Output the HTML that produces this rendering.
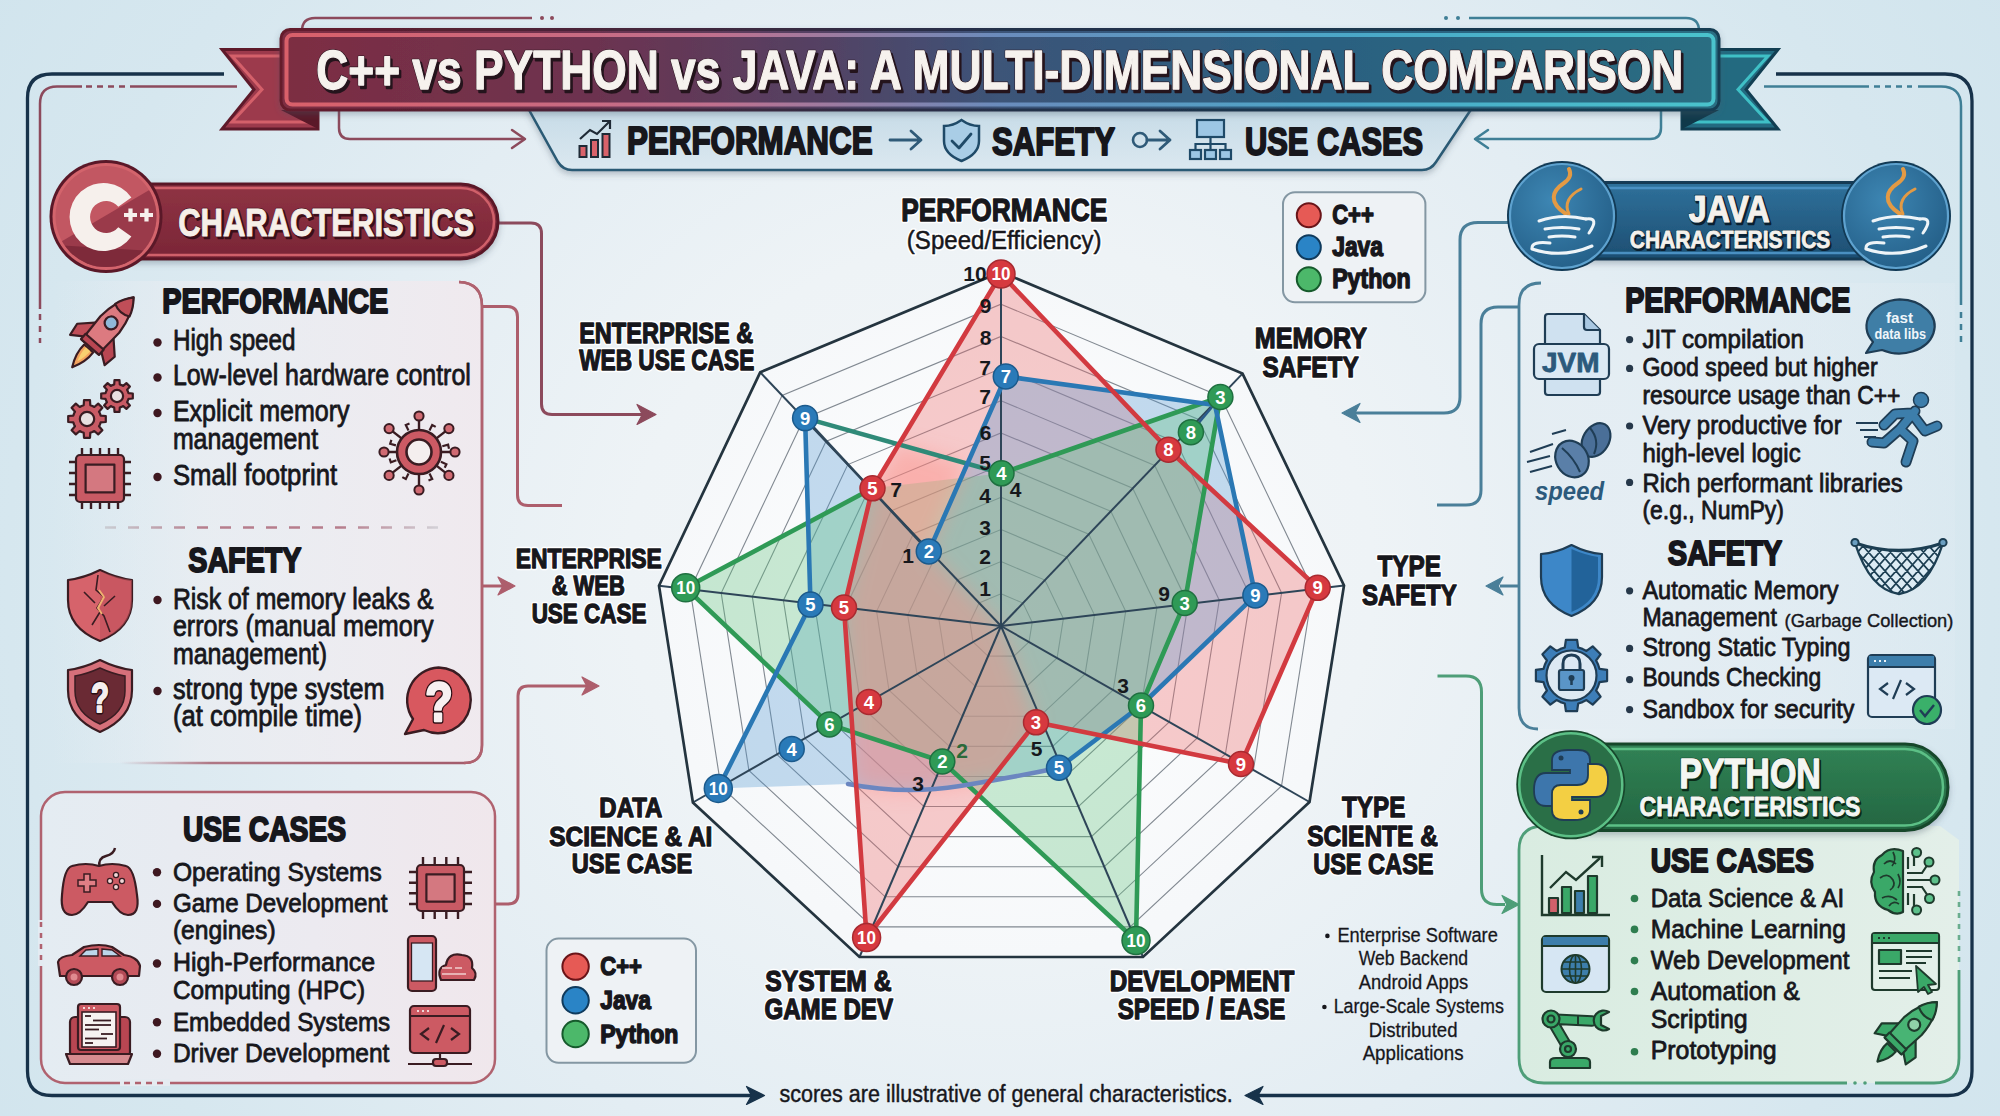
<!DOCTYPE html>
<html><head><meta charset="utf-8"><title>C++ vs Python vs Java</title>
<style>
html,body{margin:0;padding:0;background:#e6eef3;}
body{width:2000px;height:1116px;overflow:hidden;}
svg{display:block;font-family:"Liberation Sans",sans-serif;}
</style></head><body>
<svg width="2000" height="1116" viewBox="0 0 2000 1116">
<defs>
<radialGradient id="bg" gradientUnits="userSpaceOnUse" cx="1000" cy="580" r="1240" gradientTransform="translate(0,580) scale(1,0.92) translate(0,-580)">
  <stop offset="0" stop-color="#f3f6f8"/>
  <stop offset="0.3" stop-color="#eef3f6"/>
  <stop offset="0.55" stop-color="#e3edf3"/>
  <stop offset="0.8" stop-color="#d6e7ef"/>
  <stop offset="1" stop-color="#d0e4ed"/>
</radialGradient>
<linearGradient id="titleg" x1="0" x2="1" y1="0" y2="0">
  <stop offset="0" stop-color="#7d2d42"/>
  <stop offset="0.22" stop-color="#6c3350"/>
  <stop offset="0.38" stop-color="#534264"/>
  <stop offset="0.5" stop-color="#3c5478"/>
  <stop offset="0.7" stop-color="#2c5f80"/>
  <stop offset="1" stop-color="#2a6e82"/>
</linearGradient>
<linearGradient id="titleb" x1="0" x2="1" y1="0" y2="0">
  <stop offset="0" stop-color="#d9606a"/>
  <stop offset="0.3" stop-color="#c0708e"/>
  <stop offset="0.5" stop-color="#6a8cbc"/>
  <stop offset="0.75" stop-color="#4aa8c8"/>
  <stop offset="1" stop-color="#4ac3cc"/>
</linearGradient>
<linearGradient id="titleo" x1="0" x2="1" y1="0" y2="0">
  <stop offset="0" stop-color="#651c2c"/>
  <stop offset="0.5" stop-color="#24304a"/>
  <stop offset="1" stop-color="#123e52"/>
</linearGradient>
<linearGradient id="subg" x1="0" x2="0" y1="0" y2="1">
  <stop offset="0" stop-color="#c6dbe7"/>
  <stop offset="1" stop-color="#dbe8f0"/>
</linearGradient>
<linearGradient id="cppg" x1="0" x2="0" y1="0" y2="1">
  <stop offset="0" stop-color="#8f3344"/>
  <stop offset="1" stop-color="#7a2636"/>
</linearGradient>
<linearGradient id="javag" x1="0" x2="0" y1="0" y2="1">
  <stop offset="0" stop-color="#2f719b"/>
  <stop offset="1" stop-color="#1d4e72"/>
</linearGradient>
<radialGradient id="javac" cx="0.4" cy="0.35" r="0.7">
  <stop offset="0" stop-color="#3d86b3"/>
  <stop offset="1" stop-color="#245f88"/>
</radialGradient>
<linearGradient id="pyg" x1="0" x2="0" y1="0" y2="1">
  <stop offset="0" stop-color="#318255"/>
  <stop offset="1" stop-color="#236641"/>
</linearGradient>
<linearGradient id="lpanel" x1="0" x2="1" y1="0" y2="0">
  <stop offset="0" stop-color="#e9eef3" stop-opacity="0"/>
  <stop offset="0.35" stop-color="#eeeef2" stop-opacity="0.6"/>
  <stop offset="1" stop-color="#f0e9ee" stop-opacity="0.95"/>
</linearGradient>
<linearGradient id="upanel" x1="0" x2="1" y1="0" y2="0">
  <stop offset="0" stop-color="#e4ecf2"/>
  <stop offset="0.6" stop-color="#eceaf0"/>
  <stop offset="1" stop-color="#f0e7ec"/>
</linearGradient>
<linearGradient id="jpanel" x1="0" x2="1" y1="0" y2="0">
  <stop offset="0" stop-color="#e4edf3"/>
  <stop offset="1" stop-color="#e4edf3" stop-opacity="0.3"/>
</linearGradient>
<linearGradient id="ppanel" x1="0" x2="1" y1="0" y2="0">
  <stop offset="0" stop-color="#d9ece1"/>
  <stop offset="1" stop-color="#e3efe9"/>
</linearGradient>
<linearGradient id="lbot" gradientUnits="userSpaceOnUse" x1="120" x2="482" y1="0" y2="0">
  <stop offset="0" stop-color="#a25a6a" stop-opacity="0"/>
  <stop offset="0.25" stop-color="#a25a6a" stop-opacity="0.8"/>
  <stop offset="1" stop-color="#a25a6a"/>
</linearGradient>
<linearGradient id="dashg" gradientUnits="userSpaceOnUse" x1="105" x2="440" y1="0" y2="0">
  <stop offset="0" stop-color="#c9ccd2"/>
  <stop offset="0.3" stop-color="#b67d8c"/>
  <stop offset="0.7" stop-color="#b67d8c"/>
  <stop offset="1" stop-color="#d3d2d8"/>
</linearGradient>
<radialGradient id="chartbg" cx="0.5" cy="0.5" r="0.5">
  <stop offset="0" stop-color="#ffffff"/>
  <stop offset="1" stop-color="#f6f8fa"/>
</radialGradient>
<filter id="sh" x="-10%" y="-10%" width="120%" height="140%">
  <feDropShadow dx="0" dy="3" stdDeviation="3" flood-color="#4a5a6a" flood-opacity="0.35"/>
</filter>
</defs>
<rect x="0" y="0" width="2000" height="1116" fill="url(#bg)"/>
<path d="M224,74 L52,74 Q27.5,74 27.5,98 L27.5,1071 Q27.5,1095.5 52,1095.5 L760,1095.5" fill="none" stroke="#17324a" stroke-width="3.3"/>
<path d="M1776,74 L1945,74 Q1972,74 1972,101 L1972,1071 Q1972,1095.5 1948,1095.5 L1250,1095.5" fill="none" stroke="#17324a" stroke-width="3.3"/>
<path d="M237,86.5 L130,86.5" stroke="#8c4a5c" stroke-width="2.5" fill="none"/>
<path d="M125,86.5 L86,86.5" stroke="#8c4a5c" stroke-width="2.5" fill="none" stroke-dasharray="6,5"/>
<path d="M82,86.5 L57,86.5 Q40,86.5 40,104 L40,309" stroke="#8c4a5c" stroke-width="2.5" fill="none"/>
<path d="M40,314 L40,343" stroke="#8c4a5c" stroke-width="2.5" fill="none" stroke-dasharray="6,6"/>
<path d="M1764,86.6 L1869,86.6" stroke="#3f7f96" stroke-width="2.5" fill="none"/>
<path d="M1874,86.6 L1912,86.6" stroke="#3f7f96" stroke-width="2.5" fill="none" stroke-dasharray="6,5"/>
<path d="M1918,86.6 L1941,86.6 Q1961,86.6 1961,106 L1961,305" stroke="#3f7f96" stroke-width="2.5" fill="none"/>
<path d="M1961,312 L1961,345" stroke="#3f7f96" stroke-width="2.5" fill="none" stroke-dasharray="6,6"/>
<path d="M302,31 Q302,18 315,18 L532,18" stroke="#8c4a5c" stroke-width="2.5" fill="none"/>
<circle cx="542" cy="18" r="2" fill="#8c4a5c"/><circle cx="552" cy="18" r="2" fill="#8c4a5c"/>
<path d="M1469,18 L1686,18 Q1699,18 1699,31" stroke="#3f7f96" stroke-width="2.5" fill="none"/>
<circle cx="1446" cy="18" r="2" fill="#3f7f96"/><circle cx="1458" cy="18" r="2" fill="#3f7f96"/>
<path d="M339,108 L339,128 Q339,139 350,139 L524,139" stroke="#8c4a5c" stroke-width="2.5" fill="none"/>
<path d="M512,130 L525,139 L512,148" stroke="#8c4a5c" stroke-width="2.5" fill="none" stroke-linecap="round" stroke-linejoin="round"/>
<path d="M1661,108 L1661,128 Q1661,139 1650,139 L1476,139" stroke="#3f7f96" stroke-width="2.5" fill="none"/>
<path d="M1488,130 L1475,139 L1488,148" stroke="#3f7f96" stroke-width="2.5" fill="none" stroke-linecap="round" stroke-linejoin="round"/>
<g filter="url(#sh)">
<path d="M528,108 L1472,108 L1436,162 Q1431,170 1422,170 L572,170 Q563,170 558,162 Z" fill="url(#subg)" stroke="#2b5a74" stroke-width="2.5"/>
</g>
<path d="M222,49.5 L318,49.5 L318,129 L222,129 L254,89.5 Z" fill="#9c3a4c" stroke="#5e1a2a" stroke-width="3" stroke-linejoin="miter"/>
<path d="M232,56 L310,56 L310,122 L232,122 L262,89.5 Z" fill="none" stroke="#d4606a" stroke-width="3"/>
<path d="M281,110 L318,110 L318,129 Z" fill="#5a1828"/>
<path d="M1778,49.5 L1682,49.5 L1682,129 L1778,129 L1746,89.5 Z" fill="#236a80" stroke="#123e52" stroke-width="3"/>
<path d="M1768,56 L1690,56 L1690,122 L1768,122 L1738,89.5 Z" fill="none" stroke="#3fc0c6" stroke-width="3"/>
<path d="M1719,110 L1682,110 L1682,129 Z" fill="#10394a"/>
<g filter="url(#sh)">
<rect x="281" y="29.5" width="1438" height="80.5" rx="9" fill="url(#titleg)" stroke="url(#titleo)" stroke-width="3"/>
</g>
<rect x="286.5" y="35" width="1427" height="69.5" rx="6" fill="none" stroke="url(#titleb)" stroke-width="4"/>
<text x="318.45" y="91.55" font-size="54.80" font-weight="bold" textLength="1367.10" lengthAdjust="spacingAndGlyphs" fill="#24141c" stroke="#24141c" stroke-width="2.5" stroke-linejoin="round">C++ vs PYTHON vs JAVA: A MULTI-DIMENSIONAL COMPARISON</text>
<text x="316.25" y="88.75" font-size="54.80" font-weight="bold" textLength="1367.10" lengthAdjust="spacingAndGlyphs" fill="#2e1822" stroke="#2e1822" stroke-width="2.60" stroke-linejoin="round">C++ vs PYTHON vs JAVA: A MULTI-DIMENSIONAL COMPARISON</text>
<text x="316.25" y="88.75" font-size="54.80" font-weight="bold" textLength="1367.10" lengthAdjust="spacingAndGlyphs" fill="#f6f2ee" stroke="#f6f2ee" stroke-width="1.30" stroke-linejoin="round" >C++ vs PYTHON vs JAVA: A MULTI-DIMENSIONAL COMPARISON</text>
<text x="626.90" y="154.00" font-size="38.52" font-weight="bold" textLength="245.69" lengthAdjust="spacingAndGlyphs" fill="#17171c" stroke="#17171c" stroke-width="2.00" stroke-linejoin="round" >PERFORMANCE</text>
<text x="992.00" y="154.50" font-size="38.52" font-weight="bold" textLength="123.00" lengthAdjust="spacingAndGlyphs" fill="#17171c" stroke="#17171c" stroke-width="2.00" stroke-linejoin="round" >SAFETY</text>
<text x="1245.00" y="154.50" font-size="38.52" font-weight="bold" textLength="178.01" lengthAdjust="spacingAndGlyphs" fill="#17171c" stroke="#17171c" stroke-width="2.00" stroke-linejoin="round" >USE CASES</text>
<g stroke="#1f2a36" stroke-width="2" fill="#d9626a"><rect x="579.5" y="146" width="7" height="11"/><rect x="591" y="140" width="7" height="17"/><rect x="602.5" y="134" width="7" height="23"/></g>
<path d="M580,139 L590,130 L597,134 L609,122" stroke="#1f2a36" stroke-width="2.2" fill="none"/><path d="M602,121 L610,121 L610,129" stroke="#1f2a36" stroke-width="2.2" fill="none"/>
<path d="M890,140 L920,140 M911,131 L921,140 L911,149" stroke="#2f5a78" stroke-width="2.8" fill="none" stroke-linecap="round" stroke-linejoin="round"/>
<path d="M961.5,120 Q970,126 979,126 L979,141 Q979,154 961.5,161 Q944,154 944,141 L944,126 Q953,126 961.5,120 Z" fill="#a9cde6" stroke="#1f4a68" stroke-width="2.5"/>
<path d="M952,141 L959,148 L971,134" stroke="#1f4a68" stroke-width="2.8" fill="none" stroke-linecap="round" stroke-linejoin="round"/>
<circle cx="1140" cy="140" r="7" fill="none" stroke="#2f5a78" stroke-width="2.6"/>
<path d="M1147,140 L1170,140 M1160,131 L1170,140 L1160,149" stroke="#2f5a78" stroke-width="2.8" fill="none" stroke-linecap="round" stroke-linejoin="round"/>
<g stroke="#1f4a68" stroke-width="2.2" fill="#9cc6e4"><rect x="1197" y="120" width="27" height="17"/><rect x="1190" y="150" width="11" height="9"/><rect x="1205" y="150" width="11" height="9"/><rect x="1220" y="150" width="11" height="9"/></g><path d="M1210.5,137 L1210.5,150 M1195.5,150 L1195.5,144 L1225.5,144 L1225.5,150" stroke="#1f4a68" stroke-width="2.2" fill="none"/>
<path d="M52,281 L462,281 Q482,281 482,301 L482,747 Q482,763 466,763 L52,763 Z" fill="url(#lpanel)"/>
<path d="M459,282 Q482,283 482,306 L482,745 Q482,763 464,763 L120,763" fill="none" stroke="url(#lbot)" stroke-width="2.5"/>
<path d="M459,282 Q482,283 482,306 L482,745 Q482,763 464,763" fill="none" stroke="#b0626f" stroke-width="2.5"/>
<rect x="41" y="792" width="454" height="291" rx="24" fill="url(#upanel)" stroke="#b0626f" stroke-width="2.5"/>
<rect x="38" y="920" width="6" height="46" fill="#e3ebf2"/>
<path d="M41,922 L41,966" stroke="#b0626f" stroke-width="2.5" stroke-dasharray="5,6"/>
<rect x="120" y="1079" width="50" height="7" fill="#e5ebf1"/>
<path d="M124,1083 L168,1083" stroke="#b0626f" stroke-width="2.5" stroke-dasharray="6,5"/>
<path d="M497,223 L531,223 Q541.5,223 541.5,233.5 L541.5,404 Q541.5,414.5 552,414.5 L645,414.5" fill="none" stroke="#8c4a5c" stroke-width="3"/>
<path d="M656,414.5 L637,404.5 L642.32,414.5 L637,424.5 Z" fill="#8c4a5c" stroke="#8c4a5c" stroke-width="1.2" stroke-linejoin="round"/>
<path d="M483,306.5 L507,306.5 Q517.5,306.5 517.5,317 L517.5,495 Q517.5,505.5 528,505.5 L562,505.5" fill="none" stroke="#ad5e6c" stroke-width="3"/>
<path d="M483,586 L505,586" fill="none" stroke="#ad5e6c" stroke-width="3"/>
<path d="M515,586 L498,577 L502.76,586 L498,595 Z" fill="#ad5e6c" stroke="#ad5e6c" stroke-width="1.2" stroke-linejoin="round"/>
<path d="M495,904 L508,904 Q518,904 518,894 L518,696 Q518,686 528,686 L590,686" fill="none" stroke="#ad5e6c" stroke-width="3"/>
<path d="M599,686 L582,677 L586.76,686 L582,695 Z" fill="#ad5e6c" stroke="#ad5e6c" stroke-width="1.2" stroke-linejoin="round"/>
<g filter="url(#sh)">
<rect x="100" y="184" width="398" height="75" rx="37.5" fill="url(#cppg)" stroke="#5a1828" stroke-width="3"/>
</g>
<rect x="104" y="188" width="390" height="67" rx="33.5" fill="none" stroke="#d0606a" stroke-width="2.5"/>
<circle cx="106" cy="216.5" r="56.5" fill="#5a1828"/>
<circle cx="106" cy="216.5" r="53.5" fill="#d3646c"/>
<clipPath id="cppc"><circle cx="106" cy="216.5" r="50.5"/></clipPath>
<g clip-path="url(#cppc)"><rect x="50" y="160" width="112" height="112" fill="#c25762"/><path d="M40,254 L170,178 L170,280 L40,280 Z" fill="#9a3a4a"/><path d="M40,244 L170,252 L170,280 L40,280 Z" fill="#7e2a3a"/></g>
<path d="M131.4,197.5 A34,34 0 1 0 131.4,236.5 L118.3,227.3 A16,16 0 1 1 118.3,206.7 Z" fill="#f6f0ec"/>
<path d="M124,215 L137,215 M130.5,208.5 L130.5,221.5 M140,215 L153,215 M146.5,208.5 L146.5,221.5" stroke="#f6f0ec" stroke-width="4.2"/>
<text x="180.05" y="238.10" font-size="39.10" font-weight="bold" textLength="295.94" lengthAdjust="spacingAndGlyphs" fill="#3a0e18" stroke="#3a0e18" stroke-width="2.5" stroke-linejoin="round">CHARACTERISTICS</text>
<text x="178.25" y="235.90" font-size="39.10" font-weight="bold" textLength="295.94" lengthAdjust="spacingAndGlyphs" fill="#4a1420" stroke="#4a1420" stroke-width="2.30" stroke-linejoin="round">CHARACTERISTICS</text>
<text x="178.25" y="235.90" font-size="39.10" font-weight="bold" textLength="295.94" lengthAdjust="spacingAndGlyphs" fill="#f6efe8" stroke="#f6efe8" stroke-width="1.00" stroke-linejoin="round" >CHARACTERISTICS</text>
<text x="162.25" y="312.50" font-size="35.76" font-weight="bold" textLength="226.14" lengthAdjust="spacingAndGlyphs" fill="#17171c" stroke="#17171c" stroke-width="2.00" stroke-linejoin="round" >PERFORMANCE</text>
<circle cx="157.5" cy="342.5" r="4.2" fill="#3e1820"/>
<text x="172.90" y="350.10" font-size="28.63" font-weight="normal" textLength="122.70" lengthAdjust="spacingAndGlyphs" fill="#17171c" stroke="#17171c" stroke-width="0.80" stroke-linejoin="round" >High speed</text>
<circle cx="157.5" cy="377.5" r="4.2" fill="#3e1820"/>
<text x="172.90" y="385.20" font-size="28.63" font-weight="normal" textLength="297.91" lengthAdjust="spacingAndGlyphs" fill="#17171c" stroke="#17171c" stroke-width="0.80" stroke-linejoin="round" >Low-level hardware control</text>
<circle cx="157.5" cy="413" r="4.2" fill="#3e1820"/>
<text x="172.90" y="420.60" font-size="28.63" font-weight="normal" textLength="176.69" lengthAdjust="spacingAndGlyphs" fill="#17171c" stroke="#17171c" stroke-width="0.80" stroke-linejoin="round" >Explicit memory</text>
<text x="172.90" y="448.60" font-size="28.63" font-weight="normal" textLength="145.20" lengthAdjust="spacingAndGlyphs" fill="#17171c" stroke="#17171c" stroke-width="0.80" stroke-linejoin="round" >management</text>
<circle cx="157.5" cy="477" r="4.2" fill="#3e1820"/>
<text x="172.90" y="484.60" font-size="28.63" font-weight="normal" textLength="164.19" lengthAdjust="spacingAndGlyphs" fill="#17171c" stroke="#17171c" stroke-width="0.80" stroke-linejoin="round" >Small footprint</text>
<path d="M105,527.5 L440,527.5" stroke="url(#dashg)" stroke-width="2.5" stroke-dasharray="11,12"/>
<text x="188.30" y="571.50" font-size="35.25" font-weight="bold" textLength="113.10" lengthAdjust="spacingAndGlyphs" fill="#17171c" stroke="#17171c" stroke-width="2.00" stroke-linejoin="round" >SAFETY</text>
<circle cx="157.5" cy="600" r="4.2" fill="#3e1820"/>
<text x="172.90" y="608.60" font-size="28.63" font-weight="normal" textLength="260.71" lengthAdjust="spacingAndGlyphs" fill="#17171c" stroke="#17171c" stroke-width="0.80" stroke-linejoin="round" >Risk of memory leaks &amp;</text>
<text x="172.90" y="635.60" font-size="28.63" font-weight="normal" textLength="260.71" lengthAdjust="spacingAndGlyphs" fill="#17171c" stroke="#17171c" stroke-width="0.80" stroke-linejoin="round" >errors (manual memory</text>
<text x="172.90" y="664.10" font-size="28.63" font-weight="normal" textLength="154.20" lengthAdjust="spacingAndGlyphs" fill="#17171c" stroke="#17171c" stroke-width="0.80" stroke-linejoin="round" >management)</text>
<circle cx="157.5" cy="691" r="4.2" fill="#3e1820"/>
<text x="172.90" y="698.60" font-size="28.63" font-weight="normal" textLength="211.70" lengthAdjust="spacingAndGlyphs" fill="#17171c" stroke="#17171c" stroke-width="0.80" stroke-linejoin="round" >strong type system</text>
<text x="172.90" y="726.10" font-size="28.63" font-weight="normal" textLength="189.19" lengthAdjust="spacingAndGlyphs" fill="#17171c" stroke="#17171c" stroke-width="0.80" stroke-linejoin="round" >(at compile time)</text>
<text x="182.90" y="841.20" font-size="35.32" font-weight="bold" textLength="163.21" lengthAdjust="spacingAndGlyphs" fill="#17171c" stroke="#17171c" stroke-width="2.00" stroke-linejoin="round" >USE CASES</text>
<circle cx="157" cy="872.3" r="4.2" fill="#3e1820"/>
<text x="172.90" y="880.50" font-size="26.45" font-weight="normal" textLength="208.91" lengthAdjust="spacingAndGlyphs" fill="#17171c" stroke="#17171c" stroke-width="0.80" stroke-linejoin="round" >Operating Systems</text>
<circle cx="157" cy="903.9" r="4.2" fill="#3e1820"/>
<text x="172.90" y="912.10" font-size="26.45" font-weight="normal" textLength="214.70" lengthAdjust="spacingAndGlyphs" fill="#17171c" stroke="#17171c" stroke-width="0.80" stroke-linejoin="round" >Game Development</text>
<text x="172.90" y="938.60" font-size="26.45" font-weight="normal" textLength="102.70" lengthAdjust="spacingAndGlyphs" fill="#17171c" stroke="#17171c" stroke-width="0.80" stroke-linejoin="round" >(engines)</text>
<circle cx="157" cy="963.5" r="4.2" fill="#3e1820"/>
<text x="172.90" y="971.10" font-size="26.45" font-weight="normal" textLength="202.21" lengthAdjust="spacingAndGlyphs" fill="#17171c" stroke="#17171c" stroke-width="0.80" stroke-linejoin="round" >High-Performance</text>
<text x="172.90" y="998.60" font-size="26.45" font-weight="normal" textLength="192.10" lengthAdjust="spacingAndGlyphs" fill="#17171c" stroke="#17171c" stroke-width="0.80" stroke-linejoin="round" >Computing (HPC)</text>
<circle cx="157" cy="1022.3" r="4.2" fill="#3e1820"/>
<text x="172.90" y="1030.60" font-size="26.45" font-weight="normal" textLength="217.39" lengthAdjust="spacingAndGlyphs" fill="#17171c" stroke="#17171c" stroke-width="0.80" stroke-linejoin="round" >Embedded Systems</text>
<circle cx="157" cy="1053.8" r="4.2" fill="#3e1820"/>
<text x="172.90" y="1062.00" font-size="26.45" font-weight="normal" textLength="216.51" lengthAdjust="spacingAndGlyphs" fill="#17171c" stroke="#17171c" stroke-width="0.80" stroke-linejoin="round" >Driver Development</text>
<g transform="translate(90,347) rotate(41.3)" stroke="#3a1c22" stroke-width="2.2" stroke-linejoin="round"><path d="M-6,2 Q-7,14 0,27 Q7,14 6,2 Z" fill="#f2a25e"/><path d="M-3,3 Q-3,12 0,19 Q3,12 3,3 Z" fill="#f8d070" stroke="none"/><path d="M-10,-24 L-25,-9 L-23,4 L-10,-5 Z" fill="#c04e58"/><path d="M10,-24 L25,-9 L23,4 L10,-5 Z" fill="#b84652"/><path d="M-11,0 L-12.5,-30 Q-11,-52 0,-66 Q11,-52 12.5,-30 L11,0 Z" fill="#dc7a80"/><path d="M-9.5,-49 Q0,-44 9.5,-49 Q7,-58 0,-66 Q-7,-58 -9.5,-49 Z" fill="#c04e58"/><rect x="-12" y="-7" width="24" height="7" fill="#b84652"/><circle cx="0" cy="-32" r="6.5" fill="#8fb8d8"/></g>
<polygon points="100.0,413.6 100.7,415.7 105.8,416.0 105.8,422.0 100.7,422.3 100.0,424.4 100.0,424.4 99.0,426.3 102.4,430.2 98.2,434.4 94.3,431.0 92.4,432.0 92.4,432.0 90.3,432.7 90.0,437.8 84.0,437.8 83.7,432.7 81.6,432.0 81.6,432.0 79.7,431.0 75.8,434.4 71.6,430.2 75.0,426.3 74.0,424.4 74.0,424.4 73.3,422.3 68.2,422.0 68.2,416.0 73.3,415.7 74.0,413.6 74.0,413.6 75.0,411.7 71.6,407.8 75.8,403.6 79.7,407.0 81.6,406.0 81.6,406.0 83.7,405.3 84.0,400.2 90.0,400.2 90.3,405.3 92.4,406.0 92.4,406.0 94.3,407.0 98.2,403.6 102.4,407.8 99.0,411.7 100.0,413.6" fill="#c85a64" stroke="#3a1c22" stroke-width="2.2" stroke-linejoin="round"/>
<circle cx="87" cy="419" r="7.2" fill="#e8e0e0" stroke="#3a1c22" stroke-width="2.2"/>
<polygon points="127.9,391.5 128.5,393.2 132.8,393.5 132.8,398.5 128.5,398.8 127.9,400.5 127.9,400.5 127.1,402.2 129.9,405.4 126.4,408.9 123.2,406.1 121.5,406.9 121.5,406.9 119.8,407.5 119.5,411.8 114.5,411.8 114.2,407.5 112.5,406.9 112.5,406.9 110.8,406.1 107.6,408.9 104.1,405.4 106.9,402.2 106.1,400.5 106.1,400.5 105.5,398.8 101.2,398.5 101.2,393.5 105.5,393.2 106.1,391.5 106.1,391.5 106.9,389.8 104.1,386.6 107.6,383.1 110.8,385.9 112.5,385.1 112.5,385.1 114.2,384.5 114.5,380.2 119.5,380.2 119.8,384.5 121.5,385.1 121.5,385.1 123.2,385.9 126.4,383.1 129.9,386.6 127.1,389.8 127.9,391.5" fill="#c85a64" stroke="#3a1c22" stroke-width="2.2" stroke-linejoin="round"/>
<circle cx="117" cy="396" r="6.1" fill="#e8e0e0" stroke="#3a1c22" stroke-width="2.2"/>
<path d="M82.0,448 L82.0,455 M82.0,502 L82.0,509" stroke="#3a1c22" stroke-width="2.4"/>
<path d="M91.0,448 L91.0,455 M91.0,502 L91.0,509" stroke="#3a1c22" stroke-width="2.4"/>
<path d="M100.0,448 L100.0,455 M100.0,502 L100.0,509" stroke="#3a1c22" stroke-width="2.4"/>
<path d="M109.0,448 L109.0,455 M109.0,502 L109.0,509" stroke="#3a1c22" stroke-width="2.4"/>
<path d="M118.0,448 L118.0,455 M118.0,502 L118.0,509" stroke="#3a1c22" stroke-width="2.4"/>
<path d="M69,462.0 L76,462.0 M124,462.0 L131,462.0" stroke="#3a1c22" stroke-width="2.4"/>
<path d="M69,473.0 L76,473.0 M124,473.0 L131,473.0" stroke="#3a1c22" stroke-width="2.4"/>
<path d="M69,484.0 L76,484.0 M124,484.0 L131,484.0" stroke="#3a1c22" stroke-width="2.4"/>
<path d="M69,495.0 L76,495.0 M124,495.0 L131,495.0" stroke="#3a1c22" stroke-width="2.4"/>
<rect x="76" y="455" width="48" height="47" rx="4" fill="#c85a64" stroke="#3a1c22" stroke-width="2.2" stroke-linejoin="round"/>
<rect x="85.6" y="464.6" width="28.8" height="27.8" fill="#d47880" stroke="#3a1c22" stroke-width="2.2" stroke-linejoin="round"/>
<path d="M419,452 L419.0,416.0" stroke="#3a1c22" stroke-width="2.4"/>
<circle cx="419.0" cy="416.0" r="4.6" fill="#d06a72" stroke="#3a1c22" stroke-width="2"/>
<path d="M419,452 L448.9,428.6" stroke="#3a1c22" stroke-width="2.4"/>
<circle cx="448.9" cy="428.6" r="4.6" fill="#d06a72" stroke="#3a1c22" stroke-width="2"/>
<path d="M419,452 L455.0,452.0" stroke="#3a1c22" stroke-width="2.4"/>
<circle cx="455.0" cy="452.0" r="4.6" fill="#d06a72" stroke="#3a1c22" stroke-width="2"/>
<path d="M419,452 L448.9,475.4" stroke="#3a1c22" stroke-width="2.4"/>
<circle cx="448.9" cy="475.4" r="4.6" fill="#d06a72" stroke="#3a1c22" stroke-width="2"/>
<path d="M419,452 L419.0,490.0" stroke="#3a1c22" stroke-width="2.4"/>
<circle cx="419.0" cy="490.0" r="4.6" fill="#d06a72" stroke="#3a1c22" stroke-width="2"/>
<path d="M419,452 L389.1,475.4" stroke="#3a1c22" stroke-width="2.4"/>
<circle cx="389.1" cy="475.4" r="4.6" fill="#d06a72" stroke="#3a1c22" stroke-width="2"/>
<path d="M419,452 L384.0,452.0" stroke="#3a1c22" stroke-width="2.4"/>
<circle cx="384.0" cy="452.0" r="4.6" fill="#d06a72" stroke="#3a1c22" stroke-width="2"/>
<path d="M419,452 L389.1,428.6" stroke="#3a1c22" stroke-width="2.4"/>
<circle cx="389.1" cy="428.6" r="4.6" fill="#d06a72" stroke="#3a1c22" stroke-width="2"/>
<path d="M429.5,430.4 L432.2,425.0 L435.7,426.9" stroke="#3a1c22" stroke-width="2.2" fill="none"/>
<path d="M442.3,446.2 L448.1,444.7 L449.0,448.7" stroke="#3a1c22" stroke-width="2.2" fill="none"/>
<path d="M440.9,461.8 L446.4,464.2 L444.7,467.8" stroke="#3a1c22" stroke-width="2.2" fill="none"/>
<path d="M429.5,473.6 L432.2,479.0 L428.5,480.6" stroke="#3a1c22" stroke-width="2.2" fill="none"/>
<path d="M408.5,473.6 L405.8,479.0 L402.3,477.1" stroke="#3a1c22" stroke-width="2.2" fill="none"/>
<path d="M396.4,460.2 L390.8,462.3 L389.6,458.5" stroke="#3a1c22" stroke-width="2.2" fill="none"/>
<path d="M395.9,445.4 L390.2,443.7 L391.4,439.9" stroke="#3a1c22" stroke-width="2.2" fill="none"/>
<path d="M408.5,430.4 L405.8,425.0 L409.5,423.4" stroke="#3a1c22" stroke-width="2.2" fill="none"/>
<circle cx="419" cy="452" r="22" fill="#cc5a64" stroke="#3a1c22" stroke-width="2.6"/>
<circle cx="419" cy="452" r="12.5" fill="#f4eeee" stroke="#3a1c22" stroke-width="2.6"/>
<path d="M100,570 Q116,578 132,580 L132,600 Q132,628 100,641 Q68,628 68,600 L68,580 Q84,578 100,570 Z" fill="#d6636b" stroke="#3a1c22" stroke-width="2.2" stroke-linejoin="round"/>
<path d="M100,571 L100,640 Q132,628 132,600 L132,580 Q116,578 100,571 Z" fill="#c0505a" opacity="0.6"/>
<path d="M98,575 L96,590 L104,597 L97,608 L104,616 L110,632 M84,592 L95,603 M115,596 L104,606 M92,625 L100,612" stroke="#3a1c22" stroke-width="1.6" fill="none"/>
<path d="M99,590 L104,597 L98,608 L102,614" stroke="#f0b070" stroke-width="2" fill="none"/>
<path d="M100,660 Q116,668 132,670 L132,690 Q132,718 100,732 Q68,718 68,690 L68,670 Q84,668 100,660 Z" fill="#d6707a" stroke="#3a1c22" stroke-width="2.2" stroke-linejoin="round"/>
<path d="M100,668 Q113,674 125,676 L125,691 Q125,713 100,724 Q75,713 75,691 L75,676 Q87,674 100,668 Z" fill="#6a2a34" stroke="#3a1c22" stroke-width="1.5"/>
<text x="91.00" y="712.00" font-size="42.15" font-weight="bold" textLength="18.00" lengthAdjust="spacingAndGlyphs" fill="#2a0c12" stroke="#2a0c12" stroke-width="5.00" stroke-linejoin="round">?</text>
<text x="91.00" y="712.00" font-size="42.15" font-weight="bold" textLength="18.00" lengthAdjust="spacingAndGlyphs" fill="#f4eeee" stroke="#f4eeee" stroke-width="2.00" stroke-linejoin="round" >?</text>
<path d="M438.6,667.5 A32.8,32.8 0 1 1 424,730 L405,734 L413,719 A32.8,32.8 0 0 1 438.6,667.5 Z" fill="#d8585f" stroke="#3a1c22" stroke-width="2.4" stroke-linejoin="round"/>
<text x="425.25" y="720.75" font-size="55.96" font-weight="bold" textLength="27.49" lengthAdjust="spacingAndGlyphs" fill="#2a0c12" stroke="#2a0c12" stroke-width="5.50" stroke-linejoin="round">?</text>
<text x="425.25" y="720.75" font-size="55.96" font-weight="bold" textLength="27.49" lengthAdjust="spacingAndGlyphs" fill="#f8f0f0" stroke="#f8f0f0" stroke-width="2.50" stroke-linejoin="round" >?</text>
<path d="M99.5,867 Q98,858 106,856 Q114,854 115,848" stroke="#3a1c22" stroke-width="2.4" fill="none"/>
<path d="M72,866 Q64,868 62,895 Q60,915 72,915 Q80,915 88,902 L112,902 Q120,915 128,915 Q140,915 137,895 Q134,868 126,866 Q112,862 99,866 Q86,862 72,866 Z" fill="#cc5a63" stroke="#3a1c22" stroke-width="2.2" stroke-linejoin="round"/>
<path d="M78,880 L84,880 L84,874 L90,874 L90,880 L96,880 L96,886 L90,886 L90,892 L84,892 L84,886 L78,886 Z" fill="#e07e85" stroke="#3a1c22" stroke-width="1.5"/>
<circle cx="116" cy="875" r="2.6" fill="#f0d8d8" stroke="#3a1c22" stroke-width="1.3"/>
<circle cx="122" cy="881" r="2.6" fill="#f0d8d8" stroke="#3a1c22" stroke-width="1.3"/>
<circle cx="110" cy="881" r="2.6" fill="#f0d8d8" stroke="#3a1c22" stroke-width="1.3"/>
<circle cx="116" cy="887" r="2.6" fill="#f0d8d8" stroke="#3a1c22" stroke-width="1.3"/>
<path d="M60,976 L58,962 Q60,956 72,955 L84,947 Q100,943 112,947 L124,955 Q138,957 140,966 L139,976 Z" fill="#cc5a63" stroke="#3a1c22" stroke-width="2.2" stroke-linejoin="round"/>
<path d="M86,950 L98,949 L98,956 L80,956 Z M102,949 L112,950 L120,956 L102,956 Z" fill="#bcd6ea" stroke="#3a1c22" stroke-width="1.4"/>
<circle cx="74" cy="977" r="8" fill="#b34a56" stroke="#3a1c22" stroke-width="2.2" stroke-linejoin="round"/><circle cx="74" cy="977" r="3.5" fill="#e08a90"/>
<circle cx="120" cy="977" r="8" fill="#b34a56" stroke="#3a1c22" stroke-width="2.2" stroke-linejoin="round"/><circle cx="120" cy="977" r="3.5" fill="#e08a90"/>
<rect x="70" y="1017" width="60" height="40" rx="5" fill="#b84652" stroke="#3a1c22" stroke-width="2.2" stroke-linejoin="round"/>
<rect x="78" y="1004" width="42" height="46" rx="3" fill="#cc5a63" stroke="#3a1c22" stroke-width="2.2" stroke-linejoin="round"/>
<rect x="82" y="1012" width="34" height="35" fill="#f6f2f0" stroke="#3a1c22" stroke-width="1.6"/>
<path d="M83,1008 L85,1008 M88,1008 L90,1008 M93,1008 L95,1008" stroke="#f0d8d8" stroke-width="2"/>
<path d="M85,1016.0 L91,1016.0" stroke="#3a1c22" stroke-width="1.8"/>
<path d="M93,1020.5 L111,1020.5" stroke="#3a1c22" stroke-width="1.8"/>
<path d="M85,1025.0 L111,1025.0" stroke="#3a1c22" stroke-width="1.8"/>
<path d="M85,1029.5 L99,1029.5" stroke="#3a1c22" stroke-width="1.8"/>
<path d="M101,1034.0 L113,1034.0" stroke="#3a1c22" stroke-width="1.8"/>
<path d="M85,1038.5 L107,1038.5" stroke="#3a1c22" stroke-width="1.8"/>
<path d="M85,1043.0 L93,1043.0" stroke="#3a1c22" stroke-width="1.8"/>
<path d="M66,1054 L132,1054 L128,1064 L70,1064 Z" fill="#d68b90" stroke="#3a1c22" stroke-width="2.2" stroke-linejoin="round"/>
<path d="M423.0,857 L423.0,865 M423.0,911 L423.0,919" stroke="#3a1c22" stroke-width="2.4"/>
<path d="M434.7,857 L434.7,865 M434.7,911 L434.7,919" stroke="#3a1c22" stroke-width="2.4"/>
<path d="M446.3,857 L446.3,865 M446.3,911 L446.3,919" stroke="#3a1c22" stroke-width="2.4"/>
<path d="M458.0,857 L458.0,865 M458.0,911 L458.0,919" stroke="#3a1c22" stroke-width="2.4"/>
<path d="M409,872.0 L417,872.0 M464,872.0 L472,872.0" stroke="#3a1c22" stroke-width="2.4"/>
<path d="M409,882.7 L417,882.7 M464,882.7 L472,882.7" stroke="#3a1c22" stroke-width="2.4"/>
<path d="M409,893.3 L417,893.3 M464,893.3 L472,893.3" stroke="#3a1c22" stroke-width="2.4"/>
<path d="M409,904.0 L417,904.0 M464,904.0 L472,904.0" stroke="#3a1c22" stroke-width="2.4"/>
<rect x="417" y="865" width="47" height="46" rx="4" fill="#c85a64" stroke="#3a1c22" stroke-width="2.2" stroke-linejoin="round"/>
<rect x="426.4" y="874.4" width="28.2" height="27.2" fill="#d47880" stroke="#3a1c22" stroke-width="2.2" stroke-linejoin="round"/>
<rect x="408" y="936" width="28" height="55" rx="4" fill="#cc5a63" stroke="#3a1c22" stroke-width="2.2" stroke-linejoin="round"/>
<rect x="411.5" y="943" width="21" height="38" fill="#d6e6f3" stroke="#3a1c22" stroke-width="1.3"/>
<path d="M441,980 Q436,968 446,965 Q448,952 462,955 Q474,956 472,968 Q478,973 474,980 Z" fill="#cc5a63" stroke="#3a1c22" stroke-width="2.2" stroke-linejoin="round"/>
<path d="M442,968 L452,968 M455,968 L462,968 M442,974 L466,974" stroke="#f0d0d0" stroke-width="1.6"/>
<rect x="410" y="1006" width="60" height="47" rx="4" fill="#cc5a63" stroke="#3a1c22" stroke-width="2.2" stroke-linejoin="round"/>
<path d="M410,1016 L470,1016" stroke="#3a1c22" stroke-width="2"/>
<path d="M417,1011 L419,1011 M422,1011 L424,1011 M427,1011 L429,1011" stroke="#f0d8d8" stroke-width="2"/>
<path d="M429,1028 L421,1034 L429,1040 M451,1028 L459,1034 L451,1040 M444,1025 L436,1043" stroke="#3a1c22" stroke-width="2.2" fill="none"/>
<path d="M440,1053 L440,1060 M408,1064 L472,1064" stroke="#3a1c22" stroke-width="2.2"/>
<rect x="433" y="1059" width="14" height="7" rx="3" fill="#cc5a63" stroke="#3a1c22" stroke-width="2.2" stroke-linejoin="round"/>
<polygon points="1001.0,272.0 1242.5,373.6 1344.0,585.5 1309.5,802.0 1143.0,957.0 859.5,957.0 692.9,802.5 659.0,585.7 760.2,372.3" fill="url(#chartbg)"/>
<polygon points="1001.0,593.8 1023.0,603.1 1032.2,622.3 1029.0,642.0 1013.9,656.1 988.1,656.1 973.0,642.0 969.9,622.3 979.1,602.9" fill="none" stroke="#59636e" stroke-width="1.1" opacity="0.75"/>
<polygon points="1001.0,561.6 1044.9,580.1 1063.4,618.6 1057.1,658.0 1026.8,686.2 975.3,686.2 945.0,658.1 938.8,618.7 957.2,579.9" fill="none" stroke="#59636e" stroke-width="1.1" opacity="0.75"/>
<polygon points="1001.0,529.5 1066.9,557.2 1094.5,615.0 1085.1,674.0 1039.7,716.3 962.4,716.3 917.0,674.1 907.7,615.0 935.3,556.8" fill="none" stroke="#59636e" stroke-width="1.1" opacity="0.75"/>
<polygon points="1001.0,497.3 1088.8,534.2 1125.7,611.3 1113.2,690.0 1052.6,746.4 949.5,746.4 889.0,690.2 876.6,611.3 913.4,533.7" fill="none" stroke="#59636e" stroke-width="1.1" opacity="0.75"/>
<polygon points="1001.0,465.1 1110.8,511.3 1156.9,607.6 1141.2,706.0 1065.5,776.5 936.7,776.5 861.0,706.2 845.5,607.7 891.5,510.7" fill="none" stroke="#59636e" stroke-width="1.1" opacity="0.75"/>
<polygon points="1001.0,432.9 1132.7,488.3 1188.1,603.9 1169.3,722.0 1078.5,806.5 923.8,806.5 832.9,722.3 814.5,604.0 869.7,487.6" fill="none" stroke="#59636e" stroke-width="1.1" opacity="0.75"/>
<polygon points="1001.0,400.7 1154.7,465.4 1219.3,600.2 1197.3,738.0 1091.4,836.6 911.0,836.6 804.9,738.3 783.4,600.4 847.8,464.6" fill="none" stroke="#59636e" stroke-width="1.1" opacity="0.75"/>
<polygon points="1001.0,368.5 1176.6,442.4 1250.5,596.5 1225.4,754.0 1104.3,866.7 898.1,866.7 776.9,754.4 752.3,596.7 825.9,441.5" fill="none" stroke="#59636e" stroke-width="1.1" opacity="0.75"/>
<polygon points="1001.0,336.4 1198.6,419.5 1281.6,592.9 1253.4,770.0 1117.2,896.8 885.2,896.8 748.9,770.4 721.2,593.0 804.0,418.4" fill="none" stroke="#59636e" stroke-width="1.1" opacity="0.75"/>
<polygon points="1001.0,304.2 1220.5,396.5 1312.8,589.2 1281.5,786.0 1130.1,926.9 872.4,926.9 720.9,786.5 690.1,589.4 782.1,395.4" fill="none" stroke="#59636e" stroke-width="1.1" opacity="0.75"/>
<polygon points="1001,274 1168.5,449.7 1317.7,587.8 1241,764 1036,722.3 866.6,937.5 844,607.6 872.5,488.3" fill="#ee6a6a" fill-opacity="0.34"/>
<polygon points="1005.8,376.5 1215,405 1255.4,595.4 1141,705.5 1059,767.7 1010,777 923,791 848,784 718.3,788.4 810.5,604.6 805.1,418.1 928.8,551.4" fill="#4f95cf" fill-opacity="0.32"/>
<polygon points="1001.5,473.3 1220.4,397 1184.7,603 1141,705.5 1136,940.5 942.3,761.5 829.4,724.4 685.7,587.8 872.5,488.3" fill="#5cc07a" fill-opacity="0.32"/>
<filter id="ovb" x="-20%" y="-20%" width="140%" height="140%"><feGaussianBlur stdDeviation="10"/></filter>
<clipPath id="redclip"><polygon points="1001,274 1168.5,449.7 1317.7,587.8 1241,764 1036,722.3 866.6,937.5 844,607.6 872.5,488.3"/></clipPath>
<g clip-path="url(#redclip)"><polygon points="898.8,444.4 967.4,463.7 928.8,551.4 1001,626 1036,722.3 1010,777 960,786 905,792 852,786 844,607.6 872.5,488.3" fill="#ff8a80" fill-opacity="0.4" filter="url(#ovb)"/></g>
<line x1="1001" y1="626" x2="1001" y2="272" stroke="#2e4558" stroke-width="2"/>
<line x1="1001" y1="626" x2="1242.5" y2="373.6" stroke="#2e4558" stroke-width="2"/>
<line x1="1001" y1="626" x2="1344" y2="585.5" stroke="#2e4558" stroke-width="2"/>
<line x1="1001" y1="626" x2="1309.5" y2="802" stroke="#2e4558" stroke-width="2"/>
<line x1="1001" y1="626" x2="1143" y2="957" stroke="#2e4558" stroke-width="2"/>
<line x1="1001" y1="626" x2="859.5" y2="957" stroke="#2e4558" stroke-width="2"/>
<line x1="1001" y1="626" x2="692.9" y2="802.5" stroke="#2e4558" stroke-width="2"/>
<line x1="1001" y1="626" x2="659" y2="585.7" stroke="#2e4558" stroke-width="2"/>
<line x1="1001" y1="626" x2="760.2" y2="372.3" stroke="#2e4558" stroke-width="2"/>
<polygon points="1001.0,272.0 1242.5,373.6 1344.0,585.5 1309.5,802.0 1143.0,957.0 859.5,957.0 692.9,802.5 659.0,585.7 760.2,372.3" fill="none" stroke="#24343f" stroke-width="2.7" stroke-linejoin="miter"/>
<polyline points="1001.5,473.3 1220.4,397 1184.7,603 1141,705.5 1136,940.5 942.3,761.5 829.4,724.4 685.7,587.8 872.5,488.3" fill="none" stroke="#2f9a56" stroke-width="4.6" stroke-linejoin="round"/>
<path d="M805.1,418.1 L1001.5,473.3" stroke="#2f8a78" stroke-width="4.6"/>
<path d="M1190.9,432.2 L1220.4,397" stroke="#2a5a8a" stroke-width="2.5"/>
<polyline points="718.3,788.4 810.5,604.6 805.1,418.1" fill="none" stroke="#2a78b4" stroke-width="4.6" stroke-linejoin="round"/>
<polyline points="928.8,551.4 1005.8,376.5 1215,405 1255.4,595.4 1141,705.5 1059,767.7" fill="none" stroke="#2a78b4" stroke-width="4.6" stroke-linejoin="round"/>
<path d="M1059,767.7 Q1010,778 960,786 Q905,795 848,784" fill="none" stroke="#6b86c0" stroke-width="4.5" stroke-linecap="round"/>
<polygon points="1001,274 1168.5,449.7 1317.7,587.8 1241,764 1036,722.3 866.6,937.5 844,607.6 872.5,488.3" fill="none" stroke="#d23a40" stroke-width="4.6" stroke-linejoin="round"/>
<line x1="805.1" y1="418.1" x2="928.8" y2="551.4" stroke="#2e4558" stroke-width="2.5"/>
<text x="975" y="281.0" font-size="21" font-weight="bold" fill="#16181c" text-anchor="middle" stroke="#ffffff" stroke-width="0" >10</text>
<text x="985.5" y="312.5" font-size="21" font-weight="bold" fill="#16181c" text-anchor="middle" stroke="#ffffff" stroke-width="0" >9</text>
<text x="985.5" y="344.5" font-size="21" font-weight="bold" fill="#16181c" text-anchor="middle" stroke="#ffffff" stroke-width="0" >8</text>
<text x="985" y="374.5" font-size="21" font-weight="bold" fill="#16181c" text-anchor="middle" stroke="#ffffff" stroke-width="0" >7</text>
<text x="985" y="403.5" font-size="21" font-weight="bold" fill="#16181c" text-anchor="middle" stroke="#ffffff" stroke-width="0" >7</text>
<text x="985.5" y="440.0" font-size="21" font-weight="bold" fill="#16181c" text-anchor="middle" stroke="#ffffff" stroke-width="0" >6</text>
<text x="985" y="469.5" font-size="21" font-weight="bold" fill="#16181c" text-anchor="middle" stroke="#ffffff" stroke-width="0" >5</text>
<text x="985" y="502.5" font-size="21" font-weight="bold" fill="#16181c" text-anchor="middle" stroke="#ffffff" stroke-width="0" >4</text>
<text x="985" y="534.5" font-size="21" font-weight="bold" fill="#16181c" text-anchor="middle" stroke="#ffffff" stroke-width="0" >3</text>
<text x="985" y="564.0" font-size="21" font-weight="bold" fill="#16181c" text-anchor="middle" stroke="#ffffff" stroke-width="0" >2</text>
<text x="985" y="595.5" font-size="21" font-weight="bold" fill="#16181c" text-anchor="middle" stroke="#ffffff" stroke-width="0" >1</text>
<text x="1015.5" y="497.0" font-size="21" font-weight="bold" fill="#16181c" text-anchor="middle" stroke="#ffffff" stroke-width="0" >4</text>
<text x="1164" y="600.5" font-size="21" font-weight="bold" fill="#16181c" text-anchor="middle" stroke="#ffffff" stroke-width="0" >9</text>
<text x="1123" y="693.0" font-size="21" font-weight="bold" fill="#16181c" text-anchor="middle" stroke="#ffffff" stroke-width="0" >3</text>
<text x="896" y="496.5" font-size="21" font-weight="bold" fill="#16181c" text-anchor="middle" stroke="#ffffff" stroke-width="0" >7</text>
<text x="908" y="562.5" font-size="21" font-weight="bold" fill="#16181c" text-anchor="middle" stroke="#ffffff" stroke-width="0" >1</text>
<text x="1036.5" y="755.5" font-size="21" font-weight="bold" fill="#16181c" text-anchor="middle" stroke="#ffffff" stroke-width="0" >5</text>
<text x="918" y="790.5" font-size="21" font-weight="bold" fill="#16181c" text-anchor="middle" stroke="#ffffff" stroke-width="0" >3</text>
<text x="962" y="757.5" font-size="21" font-weight="bold" fill="#2a6a3a" text-anchor="middle">2</text>
<circle cx="1005.8" cy="376.5" r="12.5" fill="#2a7ab8" stroke="#1b5a8c" stroke-width="1.5"/>
<text x="1005.8" y="383.1" font-size="18.5" font-weight="bold" fill="#ffffff" text-anchor="middle">7</text>
<circle cx="1255.4" cy="595.4" r="12.5" fill="#2a7ab8" stroke="#1b5a8c" stroke-width="1.5"/>
<text x="1255.4" y="602.0" font-size="18.5" font-weight="bold" fill="#ffffff" text-anchor="middle">9</text>
<circle cx="1059" cy="767.7" r="12.5" fill="#2a7ab8" stroke="#1b5a8c" stroke-width="1.5"/>
<text x="1059" y="774.3000000000001" font-size="18.5" font-weight="bold" fill="#ffffff" text-anchor="middle">5</text>
<circle cx="791.7" cy="748.9" r="12.5" fill="#2a7ab8" stroke="#1b5a8c" stroke-width="1.5"/>
<text x="791.7" y="755.5" font-size="18.5" font-weight="bold" fill="#ffffff" text-anchor="middle">4</text>
<circle cx="718.3" cy="788.4" r="14" fill="#2a7ab8" stroke="#1b5a8c" stroke-width="1.5"/>
<text x="718.3" y="794.6999999999999" font-size="17.5" font-weight="bold" fill="#ffffff" text-anchor="middle" textLength="19" lengthAdjust="spacingAndGlyphs">10</text>
<circle cx="810.5" cy="604.6" r="12.5" fill="#2a7ab8" stroke="#1b5a8c" stroke-width="1.5"/>
<text x="810.5" y="611.2" font-size="18.5" font-weight="bold" fill="#ffffff" text-anchor="middle">5</text>
<circle cx="805.1" cy="418.1" r="12.5" fill="#2a7ab8" stroke="#1b5a8c" stroke-width="1.5"/>
<text x="805.1" y="424.70000000000005" font-size="18.5" font-weight="bold" fill="#ffffff" text-anchor="middle">9</text>
<circle cx="928.8" cy="551.4" r="12.5" fill="#2a7ab8" stroke="#1b5a8c" stroke-width="1.5"/>
<text x="928.8" y="558.0" font-size="18.5" font-weight="bold" fill="#ffffff" text-anchor="middle">2</text>
<circle cx="1001.5" cy="473.3" r="12.5" fill="#2f9a56" stroke="#1f7040" stroke-width="1.5"/>
<text x="1001.5" y="479.90000000000003" font-size="18.5" font-weight="bold" fill="#ffffff" text-anchor="middle">4</text>
<circle cx="1220.4" cy="397" r="12.5" fill="#2f9a56" stroke="#1f7040" stroke-width="1.5"/>
<text x="1220.4" y="403.6" font-size="18.5" font-weight="bold" fill="#ffffff" text-anchor="middle">3</text>
<circle cx="1190.9" cy="432.2" r="12.5" fill="#2f9a56" stroke="#1f7040" stroke-width="1.5"/>
<text x="1190.9" y="438.8" font-size="18.5" font-weight="bold" fill="#ffffff" text-anchor="middle">8</text>
<circle cx="1184.7" cy="603" r="12.5" fill="#2f9a56" stroke="#1f7040" stroke-width="1.5"/>
<text x="1184.7" y="609.6" font-size="18.5" font-weight="bold" fill="#ffffff" text-anchor="middle">3</text>
<circle cx="1141" cy="705.5" r="12.5" fill="#2f9a56" stroke="#1f7040" stroke-width="1.5"/>
<text x="1141" y="712.1" font-size="18.5" font-weight="bold" fill="#ffffff" text-anchor="middle">6</text>
<circle cx="1136" cy="940.5" r="14" fill="#2f9a56" stroke="#1f7040" stroke-width="1.5"/>
<text x="1136" y="946.8" font-size="17.5" font-weight="bold" fill="#ffffff" text-anchor="middle" textLength="19" lengthAdjust="spacingAndGlyphs">10</text>
<circle cx="942.3" cy="761.5" r="12.5" fill="#2f9a56" stroke="#1f7040" stroke-width="1.5"/>
<text x="942.3" y="768.1" font-size="18.5" font-weight="bold" fill="#ffffff" text-anchor="middle">2</text>
<circle cx="829.4" cy="724.4" r="12.5" fill="#2f9a56" stroke="#1f7040" stroke-width="1.5"/>
<text x="829.4" y="731.0" font-size="18.5" font-weight="bold" fill="#ffffff" text-anchor="middle">6</text>
<circle cx="685.7" cy="587.8" r="14" fill="#2f9a56" stroke="#1f7040" stroke-width="1.5"/>
<text x="685.7" y="594.0999999999999" font-size="17.5" font-weight="bold" fill="#ffffff" text-anchor="middle" textLength="19" lengthAdjust="spacingAndGlyphs">10</text>
<circle cx="1001" cy="274" r="14" fill="#d6393f" stroke="#a82a30" stroke-width="1.5"/>
<text x="1001" y="280.3" font-size="17.5" font-weight="bold" fill="#ffffff" text-anchor="middle" textLength="19" lengthAdjust="spacingAndGlyphs">10</text>
<circle cx="1168.5" cy="449.7" r="12.5" fill="#d6393f" stroke="#a82a30" stroke-width="1.5"/>
<text x="1168.5" y="456.3" font-size="18.5" font-weight="bold" fill="#ffffff" text-anchor="middle">8</text>
<circle cx="1317.7" cy="587.8" r="12.5" fill="#d6393f" stroke="#a82a30" stroke-width="1.5"/>
<text x="1317.7" y="594.4" font-size="18.5" font-weight="bold" fill="#ffffff" text-anchor="middle">9</text>
<circle cx="1241" cy="764" r="12.5" fill="#d6393f" stroke="#a82a30" stroke-width="1.5"/>
<text x="1241" y="770.6" font-size="18.5" font-weight="bold" fill="#ffffff" text-anchor="middle">9</text>
<circle cx="1036" cy="722.3" r="12.5" fill="#d6393f" stroke="#a82a30" stroke-width="1.5"/>
<text x="1036" y="728.9" font-size="18.5" font-weight="bold" fill="#ffffff" text-anchor="middle">3</text>
<circle cx="866.6" cy="937.5" r="14" fill="#d6393f" stroke="#a82a30" stroke-width="1.5"/>
<text x="866.6" y="943.8" font-size="17.5" font-weight="bold" fill="#ffffff" text-anchor="middle" textLength="19" lengthAdjust="spacingAndGlyphs">10</text>
<circle cx="868.9" cy="701.9" r="12.5" fill="#d6393f" stroke="#a82a30" stroke-width="1.5"/>
<text x="868.9" y="708.5" font-size="18.5" font-weight="bold" fill="#ffffff" text-anchor="middle">4</text>
<circle cx="844" cy="607.6" r="12.5" fill="#d6393f" stroke="#a82a30" stroke-width="1.5"/>
<text x="844" y="614.2" font-size="18.5" font-weight="bold" fill="#ffffff" text-anchor="middle">5</text>
<circle cx="872.5" cy="488.3" r="12.5" fill="#d6393f" stroke="#a82a30" stroke-width="1.5"/>
<text x="872.5" y="494.90000000000003" font-size="18.5" font-weight="bold" fill="#ffffff" text-anchor="middle">5</text>
<text x="901.15" y="221.35" font-size="30.96" font-weight="bold" textLength="206.09" lengthAdjust="spacingAndGlyphs" fill="#ffffff" stroke="#ffffff" stroke-width="4.30" stroke-linejoin="round">PERFORMANCE</text>
<text x="901.15" y="221.35" font-size="30.96" font-weight="bold" textLength="206.09" lengthAdjust="spacingAndGlyphs" fill="#17171c" stroke="#17171c" stroke-width="1.30" stroke-linejoin="round" >PERFORMANCE</text>
<text x="906.85" y="249.25" font-size="25.15" font-weight="normal" textLength="194.69" lengthAdjust="spacingAndGlyphs" fill="#ffffff" stroke="#ffffff" stroke-width="3.50" stroke-linejoin="round">(Speed/Efficiency)</text>
<text x="906.85" y="249.25" font-size="25.15" font-weight="normal" textLength="194.69" lengthAdjust="spacingAndGlyphs" fill="#17171c" stroke="#17171c" stroke-width="0.50" stroke-linejoin="round" >(Speed/Efficiency)</text>
<text x="579.15" y="342.85" font-size="28.63" font-weight="bold" textLength="174.00" lengthAdjust="spacingAndGlyphs" fill="#ffffff" stroke="#ffffff" stroke-width="4.30" stroke-linejoin="round">ENTERPRISE &amp;</text>
<text x="579.15" y="342.85" font-size="28.63" font-weight="bold" textLength="174.00" lengthAdjust="spacingAndGlyphs" fill="#17171c" stroke="#17171c" stroke-width="1.30" stroke-linejoin="round" >ENTERPRISE &amp;</text>
<text x="579.15" y="370.15" font-size="28.63" font-weight="bold" textLength="175.20" lengthAdjust="spacingAndGlyphs" fill="#ffffff" stroke="#ffffff" stroke-width="4.30" stroke-linejoin="round">WEB USE CASE</text>
<text x="579.15" y="370.15" font-size="28.63" font-weight="bold" textLength="175.20" lengthAdjust="spacingAndGlyphs" fill="#17171c" stroke="#17171c" stroke-width="1.30" stroke-linejoin="round" >WEB USE CASE</text>
<text x="1254.75" y="347.95" font-size="30.23" font-weight="bold" textLength="112.20" lengthAdjust="spacingAndGlyphs" fill="#ffffff" stroke="#ffffff" stroke-width="4.30" stroke-linejoin="round">MEMORY</text>
<text x="1254.75" y="347.95" font-size="30.23" font-weight="bold" textLength="112.20" lengthAdjust="spacingAndGlyphs" fill="#17171c" stroke="#17171c" stroke-width="1.30" stroke-linejoin="round" >MEMORY</text>
<text x="1262.55" y="377.25" font-size="29.80" font-weight="bold" textLength="96.20" lengthAdjust="spacingAndGlyphs" fill="#ffffff" stroke="#ffffff" stroke-width="4.30" stroke-linejoin="round">SAFETY</text>
<text x="1262.55" y="377.25" font-size="29.80" font-weight="bold" textLength="96.20" lengthAdjust="spacingAndGlyphs" fill="#17171c" stroke="#17171c" stroke-width="1.30" stroke-linejoin="round" >SAFETY</text>
<text x="1377.45" y="576.15" font-size="29.07" font-weight="bold" textLength="63.70" lengthAdjust="spacingAndGlyphs" fill="#ffffff" stroke="#ffffff" stroke-width="4.30" stroke-linejoin="round">TYPE</text>
<text x="1377.45" y="576.15" font-size="29.07" font-weight="bold" textLength="63.70" lengthAdjust="spacingAndGlyphs" fill="#17171c" stroke="#17171c" stroke-width="1.30" stroke-linejoin="round" >TYPE</text>
<text x="1361.95" y="604.95" font-size="29.07" font-weight="bold" textLength="94.80" lengthAdjust="spacingAndGlyphs" fill="#ffffff" stroke="#ffffff" stroke-width="4.30" stroke-linejoin="round">SAFETY</text>
<text x="1361.95" y="604.95" font-size="29.07" font-weight="bold" textLength="94.80" lengthAdjust="spacingAndGlyphs" fill="#17171c" stroke="#17171c" stroke-width="1.30" stroke-linejoin="round" >SAFETY</text>
<text x="515.65" y="567.65" font-size="27.62" font-weight="bold" textLength="146.20" lengthAdjust="spacingAndGlyphs" fill="#ffffff" stroke="#ffffff" stroke-width="4.30" stroke-linejoin="round">ENTERPRISE</text>
<text x="515.65" y="567.65" font-size="27.62" font-weight="bold" textLength="146.20" lengthAdjust="spacingAndGlyphs" fill="#17171c" stroke="#17171c" stroke-width="1.30" stroke-linejoin="round" >ENTERPRISE</text>
<text x="551.65" y="595.15" font-size="27.18" font-weight="bold" textLength="73.20" lengthAdjust="spacingAndGlyphs" fill="#ffffff" stroke="#ffffff" stroke-width="4.30" stroke-linejoin="round">&amp; WEB</text>
<text x="551.65" y="595.15" font-size="27.18" font-weight="bold" textLength="73.20" lengthAdjust="spacingAndGlyphs" fill="#17171c" stroke="#17171c" stroke-width="1.30" stroke-linejoin="round" >&amp; WEB</text>
<text x="531.65" y="622.65" font-size="27.18" font-weight="bold" textLength="114.71" lengthAdjust="spacingAndGlyphs" fill="#ffffff" stroke="#ffffff" stroke-width="4.30" stroke-linejoin="round">USE CASE</text>
<text x="531.65" y="622.65" font-size="27.18" font-weight="bold" textLength="114.71" lengthAdjust="spacingAndGlyphs" fill="#17171c" stroke="#17171c" stroke-width="1.30" stroke-linejoin="round" >USE CASE</text>
<text x="599.35" y="817.15" font-size="27.91" font-weight="bold" textLength="63.00" lengthAdjust="spacingAndGlyphs" fill="#ffffff" stroke="#ffffff" stroke-width="4.30" stroke-linejoin="round">DATA</text>
<text x="599.35" y="817.15" font-size="27.91" font-weight="bold" textLength="63.00" lengthAdjust="spacingAndGlyphs" fill="#17171c" stroke="#17171c" stroke-width="1.30" stroke-linejoin="round" >DATA</text>
<text x="549.35" y="845.55" font-size="27.91" font-weight="bold" textLength="163.00" lengthAdjust="spacingAndGlyphs" fill="#ffffff" stroke="#ffffff" stroke-width="4.30" stroke-linejoin="round">SCIENCE &amp; AI</text>
<text x="549.35" y="845.55" font-size="27.91" font-weight="bold" textLength="163.00" lengthAdjust="spacingAndGlyphs" fill="#17171c" stroke="#17171c" stroke-width="1.30" stroke-linejoin="round" >SCIENCE &amp; AI</text>
<text x="571.65" y="872.85" font-size="27.91" font-weight="bold" textLength="120.71" lengthAdjust="spacingAndGlyphs" fill="#ffffff" stroke="#ffffff" stroke-width="4.30" stroke-linejoin="round">USE CASE</text>
<text x="571.65" y="872.85" font-size="27.91" font-weight="bold" textLength="120.71" lengthAdjust="spacingAndGlyphs" fill="#17171c" stroke="#17171c" stroke-width="1.30" stroke-linejoin="round" >USE CASE</text>
<text x="765.35" y="991.15" font-size="29.07" font-weight="bold" textLength="126.30" lengthAdjust="spacingAndGlyphs" fill="#ffffff" stroke="#ffffff" stroke-width="4.30" stroke-linejoin="round">SYSTEM &amp;</text>
<text x="765.35" y="991.15" font-size="29.07" font-weight="bold" textLength="126.30" lengthAdjust="spacingAndGlyphs" fill="#17171c" stroke="#17171c" stroke-width="1.30" stroke-linejoin="round" >SYSTEM &amp;</text>
<text x="764.45" y="1019.35" font-size="29.07" font-weight="bold" textLength="128.60" lengthAdjust="spacingAndGlyphs" fill="#ffffff" stroke="#ffffff" stroke-width="4.30" stroke-linejoin="round">GAME DEV</text>
<text x="764.45" y="1019.35" font-size="29.07" font-weight="bold" textLength="128.60" lengthAdjust="spacingAndGlyphs" fill="#17171c" stroke="#17171c" stroke-width="1.30" stroke-linejoin="round" >GAME DEV</text>
<text x="1109.65" y="991.15" font-size="29.07" font-weight="bold" textLength="184.70" lengthAdjust="spacingAndGlyphs" fill="#ffffff" stroke="#ffffff" stroke-width="4.30" stroke-linejoin="round">DEVELOPMENT</text>
<text x="1109.65" y="991.15" font-size="29.07" font-weight="bold" textLength="184.70" lengthAdjust="spacingAndGlyphs" fill="#17171c" stroke="#17171c" stroke-width="1.30" stroke-linejoin="round" >DEVELOPMENT</text>
<text x="1117.65" y="1019.35" font-size="29.36" font-weight="bold" textLength="167.70" lengthAdjust="spacingAndGlyphs" fill="#ffffff" stroke="#ffffff" stroke-width="4.30" stroke-linejoin="round">SPEED / EASE</text>
<text x="1117.65" y="1019.35" font-size="29.36" font-weight="bold" textLength="167.70" lengthAdjust="spacingAndGlyphs" fill="#17171c" stroke="#17171c" stroke-width="1.30" stroke-linejoin="round" >SPEED / EASE</text>
<text x="1342.05" y="817.35" font-size="28.63" font-weight="bold" textLength="63.30" lengthAdjust="spacingAndGlyphs" fill="#ffffff" stroke="#ffffff" stroke-width="4.30" stroke-linejoin="round">TYPE</text>
<text x="1342.05" y="817.35" font-size="28.63" font-weight="bold" textLength="63.30" lengthAdjust="spacingAndGlyphs" fill="#17171c" stroke="#17171c" stroke-width="1.30" stroke-linejoin="round" >TYPE</text>
<text x="1307.25" y="846.15" font-size="28.63" font-weight="bold" textLength="130.60" lengthAdjust="spacingAndGlyphs" fill="#ffffff" stroke="#ffffff" stroke-width="4.30" stroke-linejoin="round">SCIENTE &amp;</text>
<text x="1307.25" y="846.15" font-size="28.63" font-weight="bold" textLength="130.60" lengthAdjust="spacingAndGlyphs" fill="#17171c" stroke="#17171c" stroke-width="1.30" stroke-linejoin="round" >SCIENTE &amp;</text>
<text x="1313.15" y="874.35" font-size="28.63" font-weight="bold" textLength="120.41" lengthAdjust="spacingAndGlyphs" fill="#ffffff" stroke="#ffffff" stroke-width="4.30" stroke-linejoin="round">USE CASE</text>
<text x="1313.15" y="874.35" font-size="28.63" font-weight="bold" textLength="120.41" lengthAdjust="spacingAndGlyphs" fill="#17171c" stroke="#17171c" stroke-width="1.30" stroke-linejoin="round" >USE CASE</text>
<rect x="1283" y="192.2" width="142.4" height="110.1" rx="12" fill="#eef2f5" stroke="#8497a3" stroke-width="2"/>
<circle cx="1308.8" cy="215.2" r="12" fill="#e65a55" stroke="#6a1418" stroke-width="2"/>
<circle cx="1308.8" cy="247.2" r="12" fill="#2a84c6" stroke="#0f3a5c" stroke-width="2"/>
<circle cx="1308.8" cy="279.2" r="12" fill="#4cb86a" stroke="#165a2c" stroke-width="2"/>
<text x="1332.15" y="224.35" font-size="27.91" font-weight="bold" textLength="41.80" lengthAdjust="spacingAndGlyphs" fill="#17171c" stroke="#17171c" stroke-width="1.50" stroke-linejoin="round" >C++</text>
<text x="1332.15" y="256.35" font-size="27.91" font-weight="bold" textLength="50.95" lengthAdjust="spacingAndGlyphs" fill="#17171c" stroke="#17171c" stroke-width="1.50" stroke-linejoin="round" >Java</text>
<text x="1332.15" y="288.35" font-size="27.91" font-weight="bold" textLength="78.49" lengthAdjust="spacingAndGlyphs" fill="#17171c" stroke="#17171c" stroke-width="1.50" stroke-linejoin="round" >Python</text>
<rect x="546.5" y="938.6" width="149.5" height="124.1" rx="12" fill="#eef2f5" stroke="#8497a3" stroke-width="2"/>
<circle cx="575.6" cy="966.6" r="13.2" fill="#e65a55" stroke="#6a1418" stroke-width="2"/>
<circle cx="575.6" cy="1000.3" r="13.2" fill="#2a84c6" stroke="#0f3a5c" stroke-width="2"/>
<circle cx="575.6" cy="1034" r="13.2" fill="#4cb86a" stroke="#165a2c" stroke-width="2"/>
<text x="600.25" y="974.85" font-size="26.60" font-weight="bold" textLength="41.60" lengthAdjust="spacingAndGlyphs" fill="#17171c" stroke="#17171c" stroke-width="1.50" stroke-linejoin="round" >C++</text>
<text x="600.25" y="1009.25" font-size="26.60" font-weight="bold" textLength="50.75" lengthAdjust="spacingAndGlyphs" fill="#17171c" stroke="#17171c" stroke-width="1.50" stroke-linejoin="round" >Java</text>
<text x="600.25" y="1043.25" font-size="26.60" font-weight="bold" textLength="78.09" lengthAdjust="spacingAndGlyphs" fill="#17171c" stroke="#17171c" stroke-width="1.50" stroke-linejoin="round" >Python</text>
<circle cx="1327.4" cy="935.9" r="2.3" fill="#17171c"/>
<text x="1337.45" y="942.15" font-size="21.08" font-weight="normal" textLength="160.40" lengthAdjust="spacingAndGlyphs" fill="#17171c" stroke="#17171c" stroke-width="0.30" stroke-linejoin="round" >Enterprise Software</text>
<text x="1358.75" y="965.45" font-size="21.08" font-weight="normal" textLength="109.39" lengthAdjust="spacingAndGlyphs" fill="#17171c" stroke="#17171c" stroke-width="0.30" stroke-linejoin="round" >Web Backend</text>
<text x="1358.75" y="989.05" font-size="21.08" font-weight="normal" textLength="109.40" lengthAdjust="spacingAndGlyphs" fill="#17171c" stroke="#17171c" stroke-width="0.30" stroke-linejoin="round" >Android Apps</text>
<circle cx="1324.4" cy="1007" r="2.3" fill="#17171c"/>
<text x="1333.65" y="1013.45" font-size="21.08" font-weight="normal" textLength="170.20" lengthAdjust="spacingAndGlyphs" fill="#17171c" stroke="#17171c" stroke-width="0.30" stroke-linejoin="round" >Large-Scale Systems</text>
<text x="1368.65" y="1036.85" font-size="21.08" font-weight="normal" textLength="88.90" lengthAdjust="spacingAndGlyphs" fill="#17171c" stroke="#17171c" stroke-width="0.30" stroke-linejoin="round" >Distributed</text>
<text x="1362.65" y="1059.85" font-size="21.08" font-weight="normal" textLength="100.90" lengthAdjust="spacingAndGlyphs" fill="#17171c" stroke="#17171c" stroke-width="0.30" stroke-linejoin="round" >Applications</text>
<path d="M764.5,1095.5 L746.5,1086.5 L751.54,1095.5 L746.5,1104.5 Z" fill="#17324a" stroke="#17324a" stroke-width="1.2" stroke-linejoin="round"/>
<path d="M1245,1095.5 L1263,1086.5 L1257.96,1095.5 L1263,1104.5 Z" fill="#17324a" stroke="#17324a" stroke-width="1.2" stroke-linejoin="round"/>
<text x="779.43" y="1102.38" font-size="24.60" font-weight="normal" textLength="453.35" lengthAdjust="spacingAndGlyphs" fill="#17171c" stroke="#17171c" stroke-width="0.45" stroke-linejoin="round" >scores are illustrative of general characteristics.</text>
<path d="M1540,283 L1955,283 L1955,729 L1538,729 Q1519,729 1519,710 L1519,302 Q1519,283 1540,283 Z" fill="url(#jpanel)" opacity="0.8"/>
<path d="M1541,283 Q1519,283 1519,305 L1519,708 Q1519,729 1538,729" fill="none" stroke="#4a7f99" stroke-width="2.8"/>
<path d="M1508,222.5 L1478,222.5 Q1460,222.5 1460,240 L1460,397 Q1460,413 1444,413 L1355,413" fill="none" stroke="#4a7f99" stroke-width="3"/>
<path d="M1342,413 L1360,403.5 L1354.96,413 L1360,422.5 Z" fill="#4a7f99" stroke="#4a7f99" stroke-width="1.2" stroke-linejoin="round"/>
<path d="M1519,307 L1498,307 Q1481,307 1481,324 L1481,490 Q1481,505 1466,505 L1437,505" fill="none" stroke="#4a7f99" stroke-width="3"/>
<path d="M1519,586 L1500,586" fill="none" stroke="#4a7f99" stroke-width="3"/>
<path d="M1486,586 L1503,577 L1498.24,586 L1503,595 Z" fill="#4a7f99" stroke="#4a7f99" stroke-width="1.2" stroke-linejoin="round"/>
<path d="M1437.5,676 L1466,676 Q1481.5,676 1481.5,692 L1481.5,889 Q1481.5,904.5 1497,904.5 L1505,904.5" fill="none" stroke="#4e9e78" stroke-width="3"/>
<path d="M1519,904.5 L1502,895.5 L1506.76,904.5 L1502,913.5 Z" fill="#4e9e78" stroke="#4e9e78" stroke-width="1.2" stroke-linejoin="round"/>
<path d="M1519,850 Q1519,826 1543,826 L1940,826 L1959,840 L1959,1058 Q1959,1083 1934,1083 L1544,1083 Q1519,1083 1519,1058 Z" fill="url(#ppanel)"/>
<path d="M1544,826 Q1519,826 1519,850 L1519,1058 Q1519,1083 1544,1083 L1847,1083" fill="none" stroke="#4e9e78" stroke-width="2.8"/>
<path d="M1875,1083 L1934,1083 Q1959,1083 1959,1058 L1959,970" fill="none" stroke="#4e9e78" stroke-width="2.8"/>
<path d="M1959,962 L1959,890" stroke="#4e9e78" stroke-width="2.6" stroke-dasharray="5,6" opacity="0.8"/>
<circle cx="1855" cy="1083" r="1.8" fill="#4e9e78"/><circle cx="1865" cy="1083" r="1.8" fill="#4e9e78"/>
<g filter="url(#sh)">
<rect x="1560" y="182.5" width="338" height="76.5" fill="url(#javag)" stroke="#123a55" stroke-width="3"/>
</g>
<rect x="1560" y="188" width="338" height="65" fill="none" stroke="#4a90c2" stroke-width="2.5"/>
<circle cx="1562" cy="216" r="55" fill="#123a55"/>
<circle cx="1562" cy="216" r="52" fill="url(#javac)" stroke="#5ea2cf" stroke-width="2.2"/>
<path d="M1566,214 C1548,202 1552,191 1564,183 C1571,178 1571,173 1569,169" fill="none" stroke="#e39a44" stroke-width="4" stroke-linecap="round"/>
<path d="M1569,214 C1564,204 1569,195 1581,189" fill="none" stroke="#e39a44" stroke-width="3" stroke-linecap="round"/>
<g fill="none" stroke="#eef4f8" stroke-width="3" stroke-linecap="round"><path d="M1539,221 Q1562,213 1586,219"/><path d="M1586,219 Q1600,217 1589,233"/><path d="M1545,229 Q1562,226 1579,229"/><path d="M1549,237 Q1562,235 1575,237"/><path d="M1550,243 Q1532,241 1532,248"/><path d="M1532,249 Q1562,259 1592,246"/></g>
<circle cx="1896" cy="216" r="55" fill="#123a55"/>
<circle cx="1896" cy="216" r="52" fill="url(#javac)" stroke="#5ea2cf" stroke-width="2.2"/>
<path d="M1900,214 C1882,202 1886,191 1898,183 C1905,178 1905,173 1903,169" fill="none" stroke="#e39a44" stroke-width="4" stroke-linecap="round"/>
<path d="M1903,214 C1898,204 1903,195 1915,189" fill="none" stroke="#e39a44" stroke-width="3" stroke-linecap="round"/>
<g fill="none" stroke="#eef4f8" stroke-width="3" stroke-linecap="round"><path d="M1873,221 Q1896,213 1920,219"/><path d="M1920,219 Q1934,217 1923,233"/><path d="M1879,229 Q1896,226 1913,229"/><path d="M1883,237 Q1896,235 1909,237"/><path d="M1884,243 Q1866,241 1866,248"/><path d="M1866,249 Q1896,259 1926,246"/></g>
<text x="1690.30" y="223.90" font-size="36.77" font-weight="bold" textLength="80.80" lengthAdjust="spacingAndGlyphs" fill="#0a2030" stroke="#0a2030" stroke-width="2.5" stroke-linejoin="round">JAVA</text>
<text x="1688.80" y="221.90" font-size="36.77" font-weight="bold" textLength="80.80" lengthAdjust="spacingAndGlyphs" fill="#0d2a3c" stroke="#0d2a3c" stroke-width="2.40" stroke-linejoin="round">JAVA</text>
<text x="1688.80" y="221.90" font-size="36.77" font-weight="bold" textLength="80.80" lengthAdjust="spacingAndGlyphs" fill="#f4f1ec" stroke="#f4f1ec" stroke-width="1.20" stroke-linejoin="round" >JAVA</text>
<text x="1631.00" y="249.50" font-size="24.42" font-weight="bold" textLength="200.49" lengthAdjust="spacingAndGlyphs" fill="#0a2030" stroke="#0a2030" stroke-width="2" stroke-linejoin="round">CHARACTERISTICS</text>
<text x="1629.80" y="247.90" font-size="24.42" font-weight="bold" textLength="200.49" lengthAdjust="spacingAndGlyphs" fill="#0d2a3c" stroke="#0d2a3c" stroke-width="1.80" stroke-linejoin="round">CHARACTERISTICS</text>
<text x="1629.80" y="247.90" font-size="24.42" font-weight="bold" textLength="200.49" lengthAdjust="spacingAndGlyphs" fill="#f4f1ec" stroke="#f4f1ec" stroke-width="0.80" stroke-linejoin="round" >CHARACTERISTICS</text>
<text x="1625.20" y="312.10" font-size="34.88" font-weight="bold" textLength="225.29" lengthAdjust="spacingAndGlyphs" fill="#17171c" stroke="#17171c" stroke-width="2.00" stroke-linejoin="round" >PERFORMANCE</text>
<circle cx="1629.6" cy="339.6" r="3.6" fill="#26384a"/>
<text x="1642.40" y="347.60" font-size="26.02" font-weight="normal" textLength="161.49" lengthAdjust="spacingAndGlyphs" fill="#17171c" stroke="#17171c" stroke-width="0.80" stroke-linejoin="round" >JIT compilation</text>
<circle cx="1629.6" cy="368.4" r="3.6" fill="#26384a"/>
<text x="1642.40" y="376.40" font-size="26.02" font-weight="normal" textLength="235.21" lengthAdjust="spacingAndGlyphs" fill="#17171c" stroke="#17171c" stroke-width="0.80" stroke-linejoin="round" >Good speed but higher</text>
<text x="1642.40" y="404.00" font-size="26.02" font-weight="normal" textLength="258.00" lengthAdjust="spacingAndGlyphs" fill="#17171c" stroke="#17171c" stroke-width="0.80" stroke-linejoin="round" >resource usage than C++</text>
<circle cx="1629.6" cy="426" r="3.6" fill="#26384a"/>
<text x="1642.40" y="434.00" font-size="26.02" font-weight="normal" textLength="199.21" lengthAdjust="spacingAndGlyphs" fill="#17171c" stroke="#17171c" stroke-width="0.80" stroke-linejoin="round" >Very productive for</text>
<text x="1642.40" y="461.60" font-size="26.02" font-weight="normal" textLength="158.20" lengthAdjust="spacingAndGlyphs" fill="#17171c" stroke="#17171c" stroke-width="0.80" stroke-linejoin="round" >high-level logic</text>
<circle cx="1629.6" cy="482.4" r="3.6" fill="#26384a"/>
<text x="1642.40" y="491.60" font-size="26.02" font-weight="normal" textLength="260.39" lengthAdjust="spacingAndGlyphs" fill="#17171c" stroke="#17171c" stroke-width="0.80" stroke-linejoin="round" >Rich performant libraries</text>
<text x="1642.40" y="519.20" font-size="26.02" font-weight="normal" textLength="141.60" lengthAdjust="spacingAndGlyphs" fill="#17171c" stroke="#17171c" stroke-width="0.80" stroke-linejoin="round" >(e.g., NumPy)</text>
<text x="1667.80" y="564.80" font-size="34.30" font-weight="bold" textLength="114.40" lengthAdjust="spacingAndGlyphs" fill="#17171c" stroke="#17171c" stroke-width="2.00" stroke-linejoin="round" >SAFETY</text>
<circle cx="1629.6" cy="590.8" r="3.6" fill="#26384a"/>
<text x="1642.40" y="598.80" font-size="26.02" font-weight="normal" textLength="196.09" lengthAdjust="spacingAndGlyphs" fill="#17171c" stroke="#17171c" stroke-width="0.80" stroke-linejoin="round" >Automatic Memory</text>
<text x="1642.40" y="626.40" font-size="26.02" font-weight="normal" textLength="134.40" lengthAdjust="spacingAndGlyphs" fill="#17171c" stroke="#17171c" stroke-width="0.80" stroke-linejoin="round" >Management</text>
<circle cx="1629.6" cy="648.4" r="3.6" fill="#26384a"/>
<text x="1642.40" y="656.40" font-size="26.02" font-weight="normal" textLength="208.10" lengthAdjust="spacingAndGlyphs" fill="#17171c" stroke="#17171c" stroke-width="0.80" stroke-linejoin="round" >Strong Static Typing</text>
<circle cx="1629.6" cy="679.6" r="3.6" fill="#26384a"/>
<text x="1642.40" y="686.40" font-size="26.02" font-weight="normal" textLength="178.81" lengthAdjust="spacingAndGlyphs" fill="#17171c" stroke="#17171c" stroke-width="0.80" stroke-linejoin="round" >Bounds Checking</text>
<circle cx="1629.6" cy="709.6" r="3.6" fill="#26384a"/>
<text x="1642.40" y="717.60" font-size="26.02" font-weight="normal" textLength="211.89" lengthAdjust="spacingAndGlyphs" fill="#17171c" stroke="#17171c" stroke-width="0.80" stroke-linejoin="round" >Sandbox for security</text>
<text x="1784.60" y="626.60" font-size="19.04" font-weight="normal" textLength="168.79" lengthAdjust="spacingAndGlyphs" fill="#17171c" stroke="#17171c" stroke-width="0.40" stroke-linejoin="round" >(Garbage Collection)</text>
<path d="M1548,314 Q1545,314 1545,317 L1545,392 Q1545,395 1548,395 L1597,395 Q1600,395 1600,392 L1600,330 L1584,314 Z" fill="#cfe1f0" stroke="#1f3d55" stroke-width="2.2" stroke-linejoin="round"/>
<path d="M1584,314 L1584,327 Q1584,330 1587,330 L1600,330" fill="#a9c8e2" stroke="#1f3d55" stroke-width="2.2" stroke-linejoin="round"/>
<rect x="1534" y="344" width="75" height="35" rx="5" fill="#dbe9f4" stroke="#1f3d55" stroke-width="2.2" stroke-linejoin="round"/>
<text x="1542.10" y="371.60" font-size="27.47" font-weight="bold" textLength="57.40" lengthAdjust="spacingAndGlyphs" fill="#2c5a7c" stroke="#2c5a7c" stroke-width="0.80" stroke-linejoin="round" >JVM</text>
<ellipse cx="1596" cy="440" rx="13" ry="18" transform="rotate(30 1596 440)" fill="#4a6f98" stroke="#1f3d55" stroke-width="2.2" stroke-linejoin="round"/>
<path d="M1590,428 Q1600,440 1594,454" stroke="#1f3d55" stroke-width="2" fill="none"/>
<ellipse cx="1572" cy="459" rx="16" ry="19" transform="rotate(-30 1572 459)" fill="#5a7fa8" stroke="#1f3d55" stroke-width="2.2" stroke-linejoin="round"/>
<path d="M1562,448 Q1574,458 1580,472" stroke="#1f3d55" stroke-width="2" fill="none"/>
<path d="M1530,452 L1553,444 M1527,462 L1550,456 M1530,472 L1552,466 M1552,434 L1566,430" stroke="#1f3d55" stroke-width="2" fill="none"/>
<text x="1535.00" y="500.00" font-size="25.00" font-weight="bold" font-style="italic" textLength="69.00" lengthAdjust="spacingAndGlyphs" fill="#2c5a7c" >speed</text>
<path d="M1899.6,299.4 A35.4,27 0 1 1 1882,350 L1866,353 L1873,342 A35.4,27 0 0 1 1899.6,299.4 Z" fill="#3f7ea6" stroke="#1f3d55" stroke-width="2.2" stroke-linejoin="round"/>
<text x="1886.00" y="323.00" font-size="15.50" font-weight="bold" textLength="27.01" lengthAdjust="spacingAndGlyphs" fill="#f0f6fa" >fast</text>
<text x="1874.50" y="339.00" font-size="15.50" font-weight="bold" textLength="51.50" lengthAdjust="spacingAndGlyphs" fill="#f0f6fa" >data libs</text>
<circle cx="1921" cy="400" r="7.5" fill="#3d7eab" stroke="#1f3d55" stroke-width="1.5"/>
<path d="M1915,411 L1900,429 L1913,441 L1906,462 M1900,429 L1884,443 L1872,442 M1912,413 L1895,414 L1884,425 M1913,415 L1925,431 L1937,426" stroke="#1f3d55" stroke-width="11" stroke-linecap="round" stroke-linejoin="round" fill="none"/>
<path d="M1915,411 L1900,429 L1913,441 L1906,462 M1900,429 L1884,443 L1872,442 M1912,413 L1895,414 L1884,425 M1913,415 L1925,431 L1937,426" stroke="#3d7eab" stroke-width="7.5" stroke-linecap="round" stroke-linejoin="round" fill="none"/>
<path d="M1856,423 L1878,423 M1860,430 L1878,430 M1864,437 L1876,437" stroke="#1f3d55" stroke-width="2"/>
<path d="M1571.5,545 Q1587,553 1602,554 L1602,577 Q1602,604 1571.5,616 Q1541,604 1541,577 L1541,554 Q1556,553 1571.5,545 Z" fill="#3d87c8" stroke="#1f3d55" stroke-width="2.2" stroke-linejoin="round"/>
<path d="M1571.5,549 L1571.5,612 Q1598,601 1598,577 L1598,557 Q1585,555 1571.5,549 Z" fill="#1f5f95" opacity="0.9"/>
<polygon points="1598.1,664.5 1599.5,668.8 1607.1,669.9 1607.1,681.1 1599.5,682.2 1598.1,686.5 1598.1,686.5 1596.1,690.5 1600.6,696.7 1592.7,704.6 1586.5,700.1 1582.5,702.1 1582.5,702.1 1578.2,703.5 1577.1,711.1 1565.9,711.1 1564.8,703.5 1560.5,702.1 1560.5,702.1 1556.5,700.1 1550.3,704.6 1542.4,696.7 1546.9,690.5 1544.9,686.5 1544.9,686.5 1543.5,682.2 1535.9,681.1 1535.9,669.9 1543.5,668.8 1544.9,664.5 1544.9,664.5 1546.9,660.5 1542.4,654.3 1550.3,646.4 1556.5,650.9 1560.5,648.9 1560.5,648.9 1564.8,647.5 1565.9,639.9 1577.1,639.9 1578.2,647.5 1582.5,648.9 1582.5,648.9 1586.5,650.9 1592.7,646.4 1600.6,654.3 1596.1,660.5 1598.1,664.5" fill="#3d7eb8" stroke="#1f3d55" stroke-width="2.2" stroke-linejoin="round"/>
<circle cx="1571.5" cy="675.5" r="25" fill="#dde9f3" stroke="#1f3d55" stroke-width="2.2" stroke-linejoin="round"/>
<path d="M1563,672 L1563,664 Q1563,655 1571.5,655 Q1580,655 1580,664 L1580,672" fill="none" stroke="#1f3d55" stroke-width="3"/>
<rect x="1559" y="670" width="25" height="20" rx="2" fill="#5a95c8" stroke="#1f3d55" stroke-width="2.2" stroke-linejoin="round"/>
<circle cx="1571.5" cy="678" r="3" fill="#1f3d55"/><path d="M1571.5,678 L1571.5,685" stroke="#1f3d55" stroke-width="2.5"/>
<clipPath id="netclip"><path d="M1855,543 Q1870,590 1899,594 Q1928,590 1943,543 Q1899,556 1855,543 Z"/></clipPath>
<path d="M1855,543 Q1870,590 1899,594 Q1928,590 1943,543 Q1899,556 1855,543 Z" fill="#dcebf4"/>
<path d="M1808,546 L1852,596 M1852,546 L1808,596 M1819,546 L1863,596 M1863,546 L1819,596 M1830,546 L1874,596 M1874,546 L1830,596 M1841,546 L1885,596 M1885,546 L1841,596 M1852,546 L1896,596 M1896,546 L1852,596 M1863,546 L1907,596 M1907,546 L1863,596 M1874,546 L1918,596 M1918,546 L1874,596 M1885,546 L1929,596 M1929,546 L1885,596 M1896,546 L1940,596 M1940,546 L1896,596 M1907,546 L1951,596 M1951,546 L1907,596 M1918,546 L1962,596 M1962,546 L1918,596 M1929,546 L1973,596 M1973,546 L1929,596 M1940,546 L1984,596 M1984,546 L1940,596 M1951,546 L1995,596 M1995,546 L1951,596" stroke="#1c3e52" stroke-width="1.8" clip-path="url(#netclip)"/>
<path d="M1855,543 Q1870,590 1899,594 Q1928,590 1943,543" fill="none" stroke="#1c3e52" stroke-width="2.4"/>
<path d="M1855,543 Q1899,558 1943,543" fill="none" stroke="#1c3e52" stroke-width="3.4"/>
<circle cx="1855" cy="542.5" r="3.6" fill="#6a9ec0" stroke="#1c3e52" stroke-width="2"/><circle cx="1943" cy="542.5" r="3.6" fill="#6a9ec0" stroke="#1c3e52" stroke-width="2"/>
<rect x="1868" y="655" width="67" height="62" rx="4" fill="#dce9f4" stroke="#1f3d55" stroke-width="2.2" stroke-linejoin="round"/>
<path d="M1868,667 L1935,667" stroke="#1f3d55" stroke-width="2.2"/>
<rect x="1869" y="656" width="65" height="10" fill="#3d7eab"/>
<path d="M1874,661 L1876,661 M1879,661 L1881,661 M1884,661 L1886,661" stroke="#eef4f8" stroke-width="2"/>
<path d="M1888,683 L1880,689 L1888,695 M1906,683 L1914,689 L1906,695 M1901,680 L1893,699" stroke="#1f3d55" stroke-width="2.2" fill="none"/>
<circle cx="1927" cy="710" r="14" fill="#3ab06a" stroke="#1f3d55" stroke-width="2.2" stroke-linejoin="round"/>
<path d="M1920,710 L1925,716 L1934,705" stroke="#1f3d55" stroke-width="2.4" fill="none"/>
<g filter="url(#sh)">
<rect x="1540" y="744" width="408" height="86.5" rx="43" fill="url(#pyg)" stroke="#17472c" stroke-width="3"/>
</g>
<rect x="1545" y="749" width="398" height="76.5" rx="38" fill="none" stroke="#5cc086" stroke-width="2.5"/>
<circle cx="1570.8" cy="784.8" r="54.5" fill="#17472c"/>
<circle cx="1570.8" cy="784.8" r="51.5" fill="#2a6f47" stroke="#5cc086" stroke-width="2.5"/>
<path d="M1568,750 Q1552,750 1552,760 L1552,770 L1570,770 L1570,773 L1546,773 Q1534,773 1534,790 Q1534,806 1546,806 L1554,806 L1554,795 Q1554,785 1565,785 L1581,785 Q1590,785 1590,776 L1590,760 Q1590,750 1578,750 Z" fill="#3d76ac" stroke="#1f3d55" stroke-width="1.8"/>
<path d="M1574,820 Q1590,820 1590,810 L1590,800 L1572,800 L1572,797 L1596,797 Q1608,797 1608,780 Q1608,764 1596,764 L1588,764 L1588,775 Q1588,785 1577,785 L1561,785 Q1552,785 1552,794 L1552,810 Q1552,820 1564,820 Z" fill="#f3cf43" stroke="#1f3d55" stroke-width="1.8"/>
<circle cx="1561" cy="758" r="2.5" fill="#1f3d55"/><circle cx="1581" cy="812" r="2.5" fill="#1f3d55"/>
<text x="1680.75" y="790.35" font-size="41.72" font-weight="bold" textLength="141.60" lengthAdjust="spacingAndGlyphs" fill="#0a2a18" stroke="#0a2a18" stroke-width="2.5" stroke-linejoin="round">PYTHON</text>
<text x="1679.25" y="788.35" font-size="41.72" font-weight="bold" textLength="141.60" lengthAdjust="spacingAndGlyphs" fill="#0f3a22" stroke="#0f3a22" stroke-width="2.50" stroke-linejoin="round">PYTHON</text>
<text x="1679.25" y="788.35" font-size="41.72" font-weight="bold" textLength="141.60" lengthAdjust="spacingAndGlyphs" fill="#f4f6f2" stroke="#f4f6f2" stroke-width="1.30" stroke-linejoin="round" >PYTHON</text>
<text x="1640.65" y="817.75" font-size="27.47" font-weight="bold" textLength="221.09" lengthAdjust="spacingAndGlyphs" fill="#0a2a18" stroke="#0a2a18" stroke-width="2" stroke-linejoin="round">CHARACTERISTICS</text>
<text x="1639.45" y="816.15" font-size="27.47" font-weight="bold" textLength="221.09" lengthAdjust="spacingAndGlyphs" fill="#0f3a22" stroke="#0f3a22" stroke-width="1.90" stroke-linejoin="round">CHARACTERISTICS</text>
<text x="1639.45" y="816.15" font-size="27.47" font-weight="bold" textLength="221.09" lengthAdjust="spacingAndGlyphs" fill="#f4f6f2" stroke="#f4f6f2" stroke-width="0.90" stroke-linejoin="round" >CHARACTERISTICS</text>
<text x="1650.70" y="871.60" font-size="33.87" font-weight="bold" textLength="163.01" lengthAdjust="spacingAndGlyphs" fill="#17171c" stroke="#17171c" stroke-width="2.00" stroke-linejoin="round" >USE CASES</text>
<circle cx="1634.5" cy="898.5" r="3.8" fill="#2e7d4f"/>
<text x="1650.70" y="907.00" font-size="26.02" font-weight="normal" textLength="193.40" lengthAdjust="spacingAndGlyphs" fill="#17171c" stroke="#17171c" stroke-width="0.80" stroke-linejoin="round" >Data Science &amp; AI</text>
<circle cx="1634.5" cy="929.4" r="3.8" fill="#2e7d4f"/>
<text x="1650.70" y="937.80" font-size="26.02" font-weight="normal" textLength="195.19" lengthAdjust="spacingAndGlyphs" fill="#17171c" stroke="#17171c" stroke-width="0.80" stroke-linejoin="round" >Machine Learning</text>
<circle cx="1634.5" cy="960.6" r="3.8" fill="#2e7d4f"/>
<text x="1650.70" y="969.10" font-size="26.02" font-weight="normal" textLength="198.80" lengthAdjust="spacingAndGlyphs" fill="#17171c" stroke="#17171c" stroke-width="0.80" stroke-linejoin="round" >Web Development</text>
<circle cx="1634.5" cy="991.5" r="3.8" fill="#2e7d4f"/>
<text x="1650.70" y="999.90" font-size="26.02" font-weight="normal" textLength="149.11" lengthAdjust="spacingAndGlyphs" fill="#17171c" stroke="#17171c" stroke-width="0.80" stroke-linejoin="round" >Automation &amp;</text>
<text x="1650.70" y="1027.60" font-size="26.02" font-weight="normal" textLength="96.89" lengthAdjust="spacingAndGlyphs" fill="#17171c" stroke="#17171c" stroke-width="0.80" stroke-linejoin="round" >Scripting</text>
<circle cx="1634.5" cy="1051.8" r="3.8" fill="#2e7d4f"/>
<text x="1650.70" y="1058.50" font-size="26.02" font-weight="normal" textLength="125.99" lengthAdjust="spacingAndGlyphs" fill="#17171c" stroke="#17171c" stroke-width="0.80" stroke-linejoin="round" >Prototyping</text>
<path d="M1542,855 L1542,915 L1610,915" fill="none" stroke="#1e3a2c" stroke-width="2.4"/>
<rect x="1549" y="898" width="9" height="15" fill="#d0606a" stroke="#1e3a2c" stroke-width="2.2" stroke-linejoin="round"/>
<rect x="1562" y="887" width="9" height="26" fill="#3aa868" stroke="#1e3a2c" stroke-width="2.2" stroke-linejoin="round"/>
<rect x="1575" y="891" width="9" height="22" fill="#3d7eab" stroke="#1e3a2c" stroke-width="2.2" stroke-linejoin="round"/>
<rect x="1588" y="876" width="9" height="37" fill="#3aa868" stroke="#1e3a2c" stroke-width="2.2" stroke-linejoin="round"/>
<path d="M1550,888 L1566,872 L1576,880 L1600,858" fill="none" stroke="#1e3a2c" stroke-width="2.4"/>
<path d="M1592,857 L1602,857 L1602,867" fill="none" stroke="#1e3a2c" stroke-width="2.4"/>
<rect x="1542" y="936" width="67" height="56" rx="4" fill="#d6e6f3" stroke="#1e3a2c" stroke-width="2.2" stroke-linejoin="round"/>
<rect x="1543" y="937" width="65" height="9" fill="#3d7eab"/>
<path d="M1542,946 L1609,946" stroke="#1e3a2c" stroke-width="2"/>
<circle cx="1575.5" cy="969" r="14" fill="#3d7eab" stroke="#1e3a2c" stroke-width="2"/>
<path d="M1561.5,969 L1589.5,969 M1575.5,955 L1575.5,983 M1563,962 L1588,962 M1563,976 L1588,976" stroke="#1e3a2c" stroke-width="1.6"/>
<ellipse cx="1575.5" cy="969" rx="6" ry="14" fill="none" stroke="#1e3a2c" stroke-width="1.6"/>
<path d="M1568,1048 L1551,1019 M1551,1019 L1592,1021" stroke="#1e3a2c" stroke-width="11.5" stroke-linecap="round" fill="none"/>
<path d="M1568,1048 L1551,1019 M1551,1019 L1592,1021" stroke="#3aa868" stroke-width="7.5" stroke-linecap="round" fill="none"/>
<path d="M1609,1012 A10,10 0 1 0 1609,1029 L1601,1025 L1601,1016 Z" fill="#3aa868" stroke="#1e3a2c" stroke-width="2.2" stroke-linejoin="round"/>
<path d="M1550,1068 L1550,1062 Q1550,1058 1556,1058 L1584,1058 Q1590,1058 1590,1062 L1590,1068 Z" fill="#3aa868" stroke="#1e3a2c" stroke-width="2.2" stroke-linejoin="round"/>
<circle cx="1568" cy="1049" r="8" fill="#3aa868" stroke="#1e3a2c" stroke-width="2.2" stroke-linejoin="round"/><circle cx="1568" cy="1049" r="3" fill="#3aa868" stroke="#1e3a2c" stroke-width="2.2" stroke-linejoin="round"/>
<circle cx="1551" cy="1019" r="8.5" fill="#3aa868" stroke="#1e3a2c" stroke-width="2.2" stroke-linejoin="round"/><circle cx="1551" cy="1019" r="3.5" fill="#3aa868" stroke="#1e3a2c" stroke-width="2.2" stroke-linejoin="round"/>
<path d="M1578,1016 L1578,1026" stroke="#1e3a2c" stroke-width="2"/>
<path d="M1903,851 Q1890,846 1882,855 Q1872,860 1874,872 Q1868,882 1875,892 Q1874,906 1888,910 Q1896,916 1903,912 Z" fill="#3aa868" stroke="#1e3a2c" stroke-width="2.2" stroke-linejoin="round"/>
<path d="M1884,864 Q1890,858 1896,864 M1880,878 Q1888,872 1893,880 Q1896,886 1890,890 M1882,898 Q1890,894 1897,900 M1893,852 Q1897,860 1892,866 M1898,874 Q1902,882 1898,888 M1889,906 Q1893,900 1899,904" stroke="#1e3a2c" stroke-width="1.7" fill="none"/>
<path d="M1908,857 L1908,869 M1908,893 L1908,905 M1914,853 L1914,866 M1907,873 L1922,873 L1928,864 M1907,880 L1931,880 M1907,887 L1922,887 L1928,896 M1914,894 L1914,906" stroke="#1e3a2c" stroke-width="2.2" fill="none"/>
<circle cx="1916.6" cy="852.5" r="4.5" fill="#5cc08a" stroke="#1e3a2c" stroke-width="2"/>
<circle cx="1929" cy="862" r="4.5" fill="#5cc08a" stroke="#1e3a2c" stroke-width="2"/>
<circle cx="1935" cy="880" r="4.5" fill="#5cc08a" stroke="#1e3a2c" stroke-width="2"/>
<circle cx="1929.5" cy="898.5" r="4.5" fill="#5cc08a" stroke="#1e3a2c" stroke-width="2"/>
<circle cx="1916.6" cy="910" r="4.5" fill="#5cc08a" stroke="#1e3a2c" stroke-width="2"/>
<rect x="1872" y="933" width="67" height="57" rx="3" fill="#e2f0e8" stroke="#1e3a2c" stroke-width="2.2" stroke-linejoin="round"/>
<rect x="1873" y="934" width="65" height="8" fill="#3aa868"/>
<path d="M1878,938 L1880,938 M1883,938 L1885,938 M1888,938 L1890,938" stroke="#1e3a2c" stroke-width="2"/>
<path d="M1872,943 L1939,943" stroke="#1e3a2c" stroke-width="2"/>
<rect x="1879" y="950" width="22" height="14" fill="#3aa868" stroke="#1e3a2c" stroke-width="2.2" stroke-linejoin="round"/>
<path d="M1906,951 L1932,951 M1906,957 L1932,957 M1906,963 L1926,963 M1879,971 L1912,971 M1879,978 L1910,978" stroke="#1e3a2c" stroke-width="2"/>
<path d="M1916,966 L1936,984 L1928,985 L1932,992 L1928,994 L1924,987 L1918,992 Z" fill="#3aa868" stroke="#1e3a2c" stroke-width="1.8" stroke-linejoin="round"/>
<g transform="translate(1893,1046) rotate(45)" stroke="#1e3a2c" stroke-width="2.2" stroke-linejoin="round"><path d="M-6,2 Q-7,12 0,22 Q7,12 6,2 Z" fill="#3aa868"/><path d="M-10,-22 L-24,-8 L-22,4 L-10,-4 Z" fill="#3aa868"/><path d="M10,-22 L24,-8 L22,4 L10,-4 Z" fill="#3aa868"/><path d="M-11,0 L-12.5,-28 Q-11,-50 0,-62 Q11,-50 12.5,-28 L11,0 Z" fill="#48b474"/><path d="M-9.5,-46 Q0,-41 9.5,-46 Q7,-55 0,-62 Q-7,-55 -9.5,-46 Z" fill="#3aa868"/><rect x="-12" y="-7" width="24" height="7" fill="#3aa868"/><circle cx="0" cy="-30" r="6" fill="#8fd0a8"/></g>
</svg>
</body></html>
